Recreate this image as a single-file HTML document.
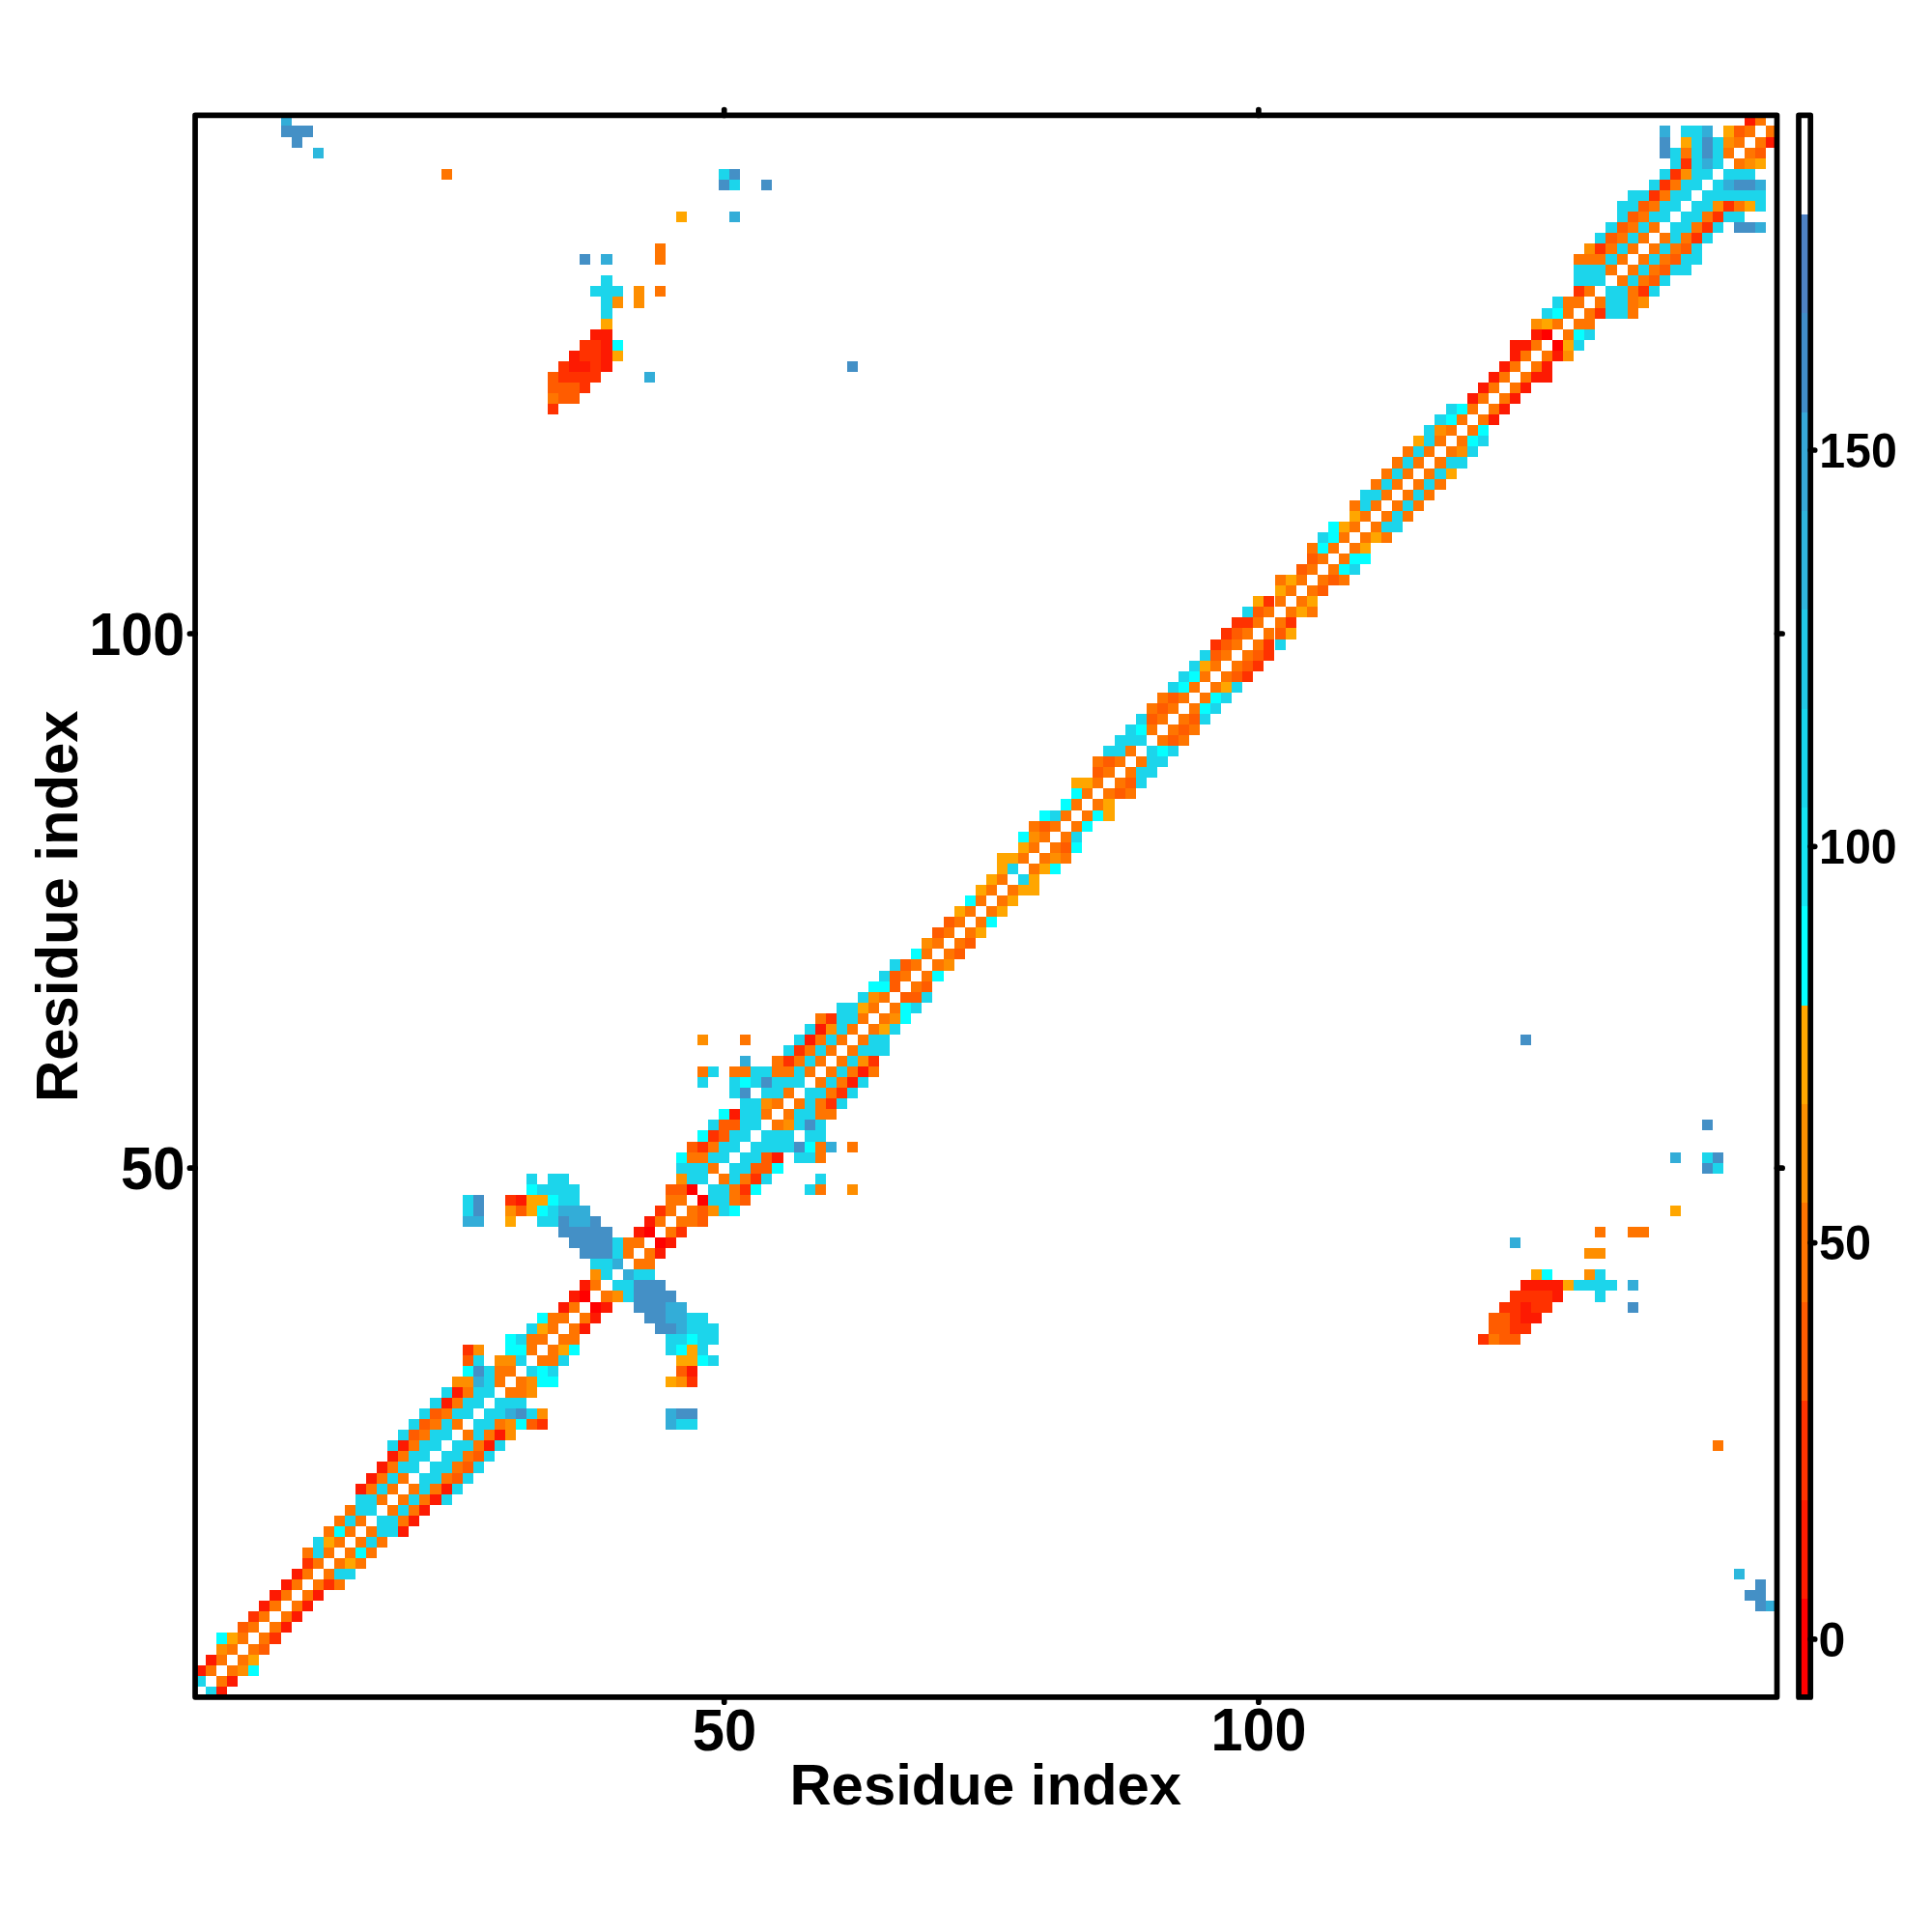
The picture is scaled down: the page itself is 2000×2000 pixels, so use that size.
<!DOCTYPE html>
<html><head><meta charset="utf-8"><style>
html,body{margin:0;padding:0;background:#fff;}
svg{display:block;}
text{font-family:"Liberation Sans",sans-serif;font-weight:bold;fill:#000;}
.tl{font-size:62.5px;}
.cl{font-size:50px;}
.at{font-size:63.5px;}
</style></head><body>
<svg xmlns="http://www.w3.org/2000/svg" width="2000" height="2000" viewBox="0 0 2000 2000">
<rect width="2000" height="2000" fill="#fff"/>
<g shape-rendering="crispEdges">
<rect x="213.10" y="1745.80" width="11.06" height="11.06" fill="#1CD5EB"/>
<rect x="224.16" y="1745.80" width="11.06" height="11.06" fill="#FD1A02"/>
<rect x="202.03" y="1734.74" width="11.06" height="11.06" fill="#1CD5EB"/>
<rect x="224.16" y="1734.74" width="11.06" height="11.06" fill="#FF7500"/>
<rect x="235.22" y="1734.74" width="11.06" height="11.06" fill="#FD1A02"/>
<rect x="202.03" y="1723.68" width="11.06" height="11.06" fill="#FD1A02"/>
<rect x="213.10" y="1723.68" width="11.06" height="11.06" fill="#FF7500"/>
<rect x="235.22" y="1723.68" width="11.06" height="11.06" fill="#FF7500"/>
<rect x="246.29" y="1723.68" width="11.06" height="11.06" fill="#FE8E00"/>
<rect x="257.35" y="1723.68" width="11.06" height="11.06" fill="#05FFFF"/>
<rect x="213.10" y="1712.61" width="11.06" height="11.06" fill="#FD1A02"/>
<rect x="224.16" y="1712.61" width="11.06" height="11.06" fill="#FF7500"/>
<rect x="246.29" y="1712.61" width="11.06" height="11.06" fill="#FF7500"/>
<rect x="257.35" y="1712.61" width="11.06" height="11.06" fill="#FFA600"/>
<rect x="224.16" y="1701.55" width="11.06" height="11.06" fill="#FE8E00"/>
<rect x="235.22" y="1701.55" width="11.06" height="11.06" fill="#FF7500"/>
<rect x="257.35" y="1701.55" width="11.06" height="11.06" fill="#FF7500"/>
<rect x="268.42" y="1701.55" width="11.06" height="11.06" fill="#FF5C00"/>
<rect x="224.16" y="1690.48" width="11.06" height="11.06" fill="#05FFFF"/>
<rect x="235.22" y="1690.48" width="11.06" height="11.06" fill="#FFA600"/>
<rect x="246.29" y="1690.48" width="11.06" height="11.06" fill="#FF7500"/>
<rect x="268.42" y="1690.48" width="11.06" height="11.06" fill="#FF7500"/>
<rect x="279.48" y="1690.48" width="11.06" height="11.06" fill="#FF3200"/>
<rect x="246.29" y="1679.42" width="11.06" height="11.06" fill="#FF5C00"/>
<rect x="257.35" y="1679.42" width="11.06" height="11.06" fill="#FF7500"/>
<rect x="279.48" y="1679.42" width="11.06" height="11.06" fill="#FF7500"/>
<rect x="290.54" y="1679.42" width="11.06" height="11.06" fill="#FD1A02"/>
<rect x="257.35" y="1668.36" width="11.06" height="11.06" fill="#FF3200"/>
<rect x="268.42" y="1668.36" width="11.06" height="11.06" fill="#FF7500"/>
<rect x="290.54" y="1668.36" width="11.06" height="11.06" fill="#FF7500"/>
<rect x="301.61" y="1668.36" width="11.06" height="11.06" fill="#FD1A02"/>
<rect x="268.42" y="1657.29" width="11.06" height="11.06" fill="#FD1A02"/>
<rect x="279.48" y="1657.29" width="11.06" height="11.06" fill="#FF7500"/>
<rect x="301.61" y="1657.29" width="11.06" height="11.06" fill="#FF7500"/>
<rect x="312.67" y="1657.29" width="11.06" height="11.06" fill="#FD1A02"/>
<rect x="1817.38" y="1657.29" width="11.06" height="11.06" fill="#4490C6"/>
<rect x="1828.44" y="1657.29" width="11.06" height="11.06" fill="#33ADD8"/>
<rect x="279.48" y="1646.23" width="11.06" height="11.06" fill="#FD1A02"/>
<rect x="290.54" y="1646.23" width="11.06" height="11.06" fill="#FF7500"/>
<rect x="312.67" y="1646.23" width="11.06" height="11.06" fill="#FF7500"/>
<rect x="323.74" y="1646.23" width="11.06" height="11.06" fill="#FD1A02"/>
<rect x="1806.31" y="1646.23" width="22.13" height="11.06" fill="#4490C6"/>
<rect x="290.54" y="1635.16" width="11.06" height="11.06" fill="#FD1A02"/>
<rect x="301.61" y="1635.16" width="11.06" height="11.06" fill="#FF7500"/>
<rect x="323.74" y="1635.16" width="11.06" height="11.06" fill="#FF7500"/>
<rect x="334.80" y="1635.16" width="11.06" height="11.06" fill="#FF3200"/>
<rect x="345.86" y="1635.16" width="11.06" height="11.06" fill="#FF7500"/>
<rect x="1817.38" y="1635.16" width="11.06" height="11.06" fill="#4490C6"/>
<rect x="301.61" y="1624.10" width="11.06" height="11.06" fill="#FD1A02"/>
<rect x="312.67" y="1624.10" width="11.06" height="11.06" fill="#FF7500"/>
<rect x="334.80" y="1624.10" width="11.06" height="11.06" fill="#FF7500"/>
<rect x="345.86" y="1624.10" width="22.13" height="11.06" fill="#1CD5EB"/>
<rect x="1795.25" y="1624.10" width="11.06" height="11.06" fill="#2DB8DD"/>
<rect x="312.67" y="1613.04" width="11.06" height="11.06" fill="#FF3200"/>
<rect x="323.74" y="1613.04" width="11.06" height="11.06" fill="#FF7500"/>
<rect x="345.86" y="1613.04" width="11.06" height="11.06" fill="#FF7500"/>
<rect x="356.93" y="1613.04" width="11.06" height="11.06" fill="#FFA600"/>
<rect x="367.99" y="1613.04" width="11.06" height="11.06" fill="#FF7500"/>
<rect x="312.67" y="1601.97" width="11.06" height="11.06" fill="#FF7500"/>
<rect x="323.74" y="1601.97" width="11.06" height="11.06" fill="#1CD5EB"/>
<rect x="334.80" y="1601.97" width="11.06" height="11.06" fill="#FF7500"/>
<rect x="356.93" y="1601.97" width="11.06" height="11.06" fill="#FF7500"/>
<rect x="367.99" y="1601.97" width="11.06" height="11.06" fill="#05FFFF"/>
<rect x="379.06" y="1601.97" width="11.06" height="11.06" fill="#FF7500"/>
<rect x="323.74" y="1590.91" width="11.06" height="11.06" fill="#1CD5EB"/>
<rect x="334.80" y="1590.91" width="11.06" height="11.06" fill="#FFA600"/>
<rect x="345.86" y="1590.91" width="11.06" height="11.06" fill="#FF7500"/>
<rect x="367.99" y="1590.91" width="11.06" height="11.06" fill="#FF7500"/>
<rect x="379.06" y="1590.91" width="11.06" height="11.06" fill="#1CD5EB"/>
<rect x="390.12" y="1590.91" width="11.06" height="11.06" fill="#FF7500"/>
<rect x="334.80" y="1579.84" width="11.06" height="11.06" fill="#FF7500"/>
<rect x="345.86" y="1579.84" width="11.06" height="11.06" fill="#05FFFF"/>
<rect x="356.93" y="1579.84" width="11.06" height="11.06" fill="#FF7500"/>
<rect x="379.06" y="1579.84" width="11.06" height="11.06" fill="#FF7500"/>
<rect x="390.12" y="1579.84" width="22.13" height="11.06" fill="#1CD5EB"/>
<rect x="412.25" y="1579.84" width="11.06" height="11.06" fill="#FD1A02"/>
<rect x="345.86" y="1568.78" width="11.06" height="11.06" fill="#FF7500"/>
<rect x="356.93" y="1568.78" width="11.06" height="11.06" fill="#1CD5EB"/>
<rect x="367.99" y="1568.78" width="11.06" height="11.06" fill="#FF7500"/>
<rect x="390.12" y="1568.78" width="22.13" height="11.06" fill="#1CD5EB"/>
<rect x="412.25" y="1568.78" width="11.06" height="11.06" fill="#FF7500"/>
<rect x="423.31" y="1568.78" width="11.06" height="11.06" fill="#FD1A02"/>
<rect x="356.93" y="1557.72" width="11.06" height="11.06" fill="#FF7500"/>
<rect x="367.99" y="1557.72" width="22.13" height="11.06" fill="#1CD5EB"/>
<rect x="401.18" y="1557.72" width="11.06" height="11.06" fill="#FF7500"/>
<rect x="412.25" y="1557.72" width="11.06" height="11.06" fill="#1CD5EB"/>
<rect x="423.31" y="1557.72" width="11.06" height="11.06" fill="#FF7500"/>
<rect x="434.38" y="1557.72" width="11.06" height="11.06" fill="#FD1A02"/>
<rect x="367.99" y="1546.65" width="22.13" height="11.06" fill="#1CD5EB"/>
<rect x="390.12" y="1546.65" width="11.06" height="11.06" fill="#FF7500"/>
<rect x="412.25" y="1546.65" width="11.06" height="11.06" fill="#FF7500"/>
<rect x="423.31" y="1546.65" width="11.06" height="11.06" fill="#1CD5EB"/>
<rect x="434.38" y="1546.65" width="11.06" height="11.06" fill="#FF7500"/>
<rect x="445.44" y="1546.65" width="11.06" height="11.06" fill="#FD1A02"/>
<rect x="456.50" y="1546.65" width="11.06" height="11.06" fill="#1CD5EB"/>
<rect x="367.99" y="1535.59" width="11.06" height="11.06" fill="#FD1A02"/>
<rect x="379.06" y="1535.59" width="11.06" height="11.06" fill="#FF7500"/>
<rect x="390.12" y="1535.59" width="11.06" height="11.06" fill="#1CD5EB"/>
<rect x="401.18" y="1535.59" width="11.06" height="11.06" fill="#FF7500"/>
<rect x="423.31" y="1535.59" width="11.06" height="11.06" fill="#FF7500"/>
<rect x="434.38" y="1535.59" width="11.06" height="11.06" fill="#1CD5EB"/>
<rect x="445.44" y="1535.59" width="11.06" height="11.06" fill="#FF7500"/>
<rect x="456.50" y="1535.59" width="11.06" height="11.06" fill="#FD1A02"/>
<rect x="467.57" y="1535.59" width="11.06" height="11.06" fill="#1CD5EB"/>
<rect x="379.06" y="1524.52" width="11.06" height="11.06" fill="#FD1A02"/>
<rect x="390.12" y="1524.52" width="11.06" height="11.06" fill="#FF7500"/>
<rect x="401.18" y="1524.52" width="11.06" height="11.06" fill="#1CD5EB"/>
<rect x="412.25" y="1524.52" width="11.06" height="11.06" fill="#FF7500"/>
<rect x="434.38" y="1524.52" width="22.13" height="11.06" fill="#1CD5EB"/>
<rect x="456.50" y="1524.52" width="11.06" height="11.06" fill="#FF7500"/>
<rect x="467.57" y="1524.52" width="11.06" height="11.06" fill="#FF5C00"/>
<rect x="478.63" y="1524.52" width="11.06" height="11.06" fill="#1CD5EB"/>
<rect x="390.12" y="1513.46" width="11.06" height="11.06" fill="#FD1A02"/>
<rect x="401.18" y="1513.46" width="11.06" height="11.06" fill="#FF7500"/>
<rect x="412.25" y="1513.46" width="22.13" height="11.06" fill="#1CD5EB"/>
<rect x="445.44" y="1513.46" width="22.13" height="11.06" fill="#1CD5EB"/>
<rect x="467.57" y="1513.46" width="11.06" height="11.06" fill="#FF7500"/>
<rect x="478.63" y="1513.46" width="11.06" height="11.06" fill="#FF5C00"/>
<rect x="489.70" y="1513.46" width="11.06" height="11.06" fill="#1CD5EB"/>
<rect x="401.18" y="1502.40" width="11.06" height="11.06" fill="#FD1A02"/>
<rect x="412.25" y="1502.40" width="11.06" height="11.06" fill="#FF7500"/>
<rect x="423.31" y="1502.40" width="22.13" height="11.06" fill="#1CD5EB"/>
<rect x="456.50" y="1502.40" width="22.13" height="11.06" fill="#1CD5EB"/>
<rect x="478.63" y="1502.40" width="11.06" height="11.06" fill="#FF7500"/>
<rect x="489.70" y="1502.40" width="11.06" height="11.06" fill="#FF5C00"/>
<rect x="500.76" y="1502.40" width="11.06" height="11.06" fill="#1CD5EB"/>
<rect x="401.18" y="1491.33" width="11.06" height="11.06" fill="#1CD5EB"/>
<rect x="412.25" y="1491.33" width="11.06" height="11.06" fill="#FD1A02"/>
<rect x="423.31" y="1491.33" width="11.06" height="11.06" fill="#FF7500"/>
<rect x="434.38" y="1491.33" width="22.13" height="11.06" fill="#1CD5EB"/>
<rect x="467.57" y="1491.33" width="22.13" height="11.06" fill="#1CD5EB"/>
<rect x="489.70" y="1491.33" width="11.06" height="11.06" fill="#FF7500"/>
<rect x="500.76" y="1491.33" width="11.06" height="11.06" fill="#FD1A02"/>
<rect x="511.82" y="1491.33" width="11.06" height="11.06" fill="#1CD5EB"/>
<rect x="1773.12" y="1491.33" width="11.06" height="11.06" fill="#FF7500"/>
<rect x="412.25" y="1480.27" width="11.06" height="11.06" fill="#1CD5EB"/>
<rect x="423.31" y="1480.27" width="11.06" height="11.06" fill="#FF5C00"/>
<rect x="434.38" y="1480.27" width="11.06" height="11.06" fill="#FF7500"/>
<rect x="445.44" y="1480.27" width="22.13" height="11.06" fill="#1CD5EB"/>
<rect x="478.63" y="1480.27" width="11.06" height="11.06" fill="#FF7500"/>
<rect x="489.70" y="1480.27" width="11.06" height="11.06" fill="#1CD5EB"/>
<rect x="500.76" y="1480.27" width="11.06" height="11.06" fill="#FF7500"/>
<rect x="511.82" y="1480.27" width="11.06" height="11.06" fill="#FD1A02"/>
<rect x="522.89" y="1480.27" width="11.06" height="11.06" fill="#FE8E00"/>
<rect x="423.31" y="1469.20" width="11.06" height="11.06" fill="#1CD5EB"/>
<rect x="434.38" y="1469.20" width="11.06" height="11.06" fill="#FF5C00"/>
<rect x="445.44" y="1469.20" width="11.06" height="11.06" fill="#FF7500"/>
<rect x="456.50" y="1469.20" width="11.06" height="11.06" fill="#1CD5EB"/>
<rect x="467.57" y="1469.20" width="11.06" height="11.06" fill="#FF7500"/>
<rect x="489.70" y="1469.20" width="22.13" height="11.06" fill="#1CD5EB"/>
<rect x="511.82" y="1469.20" width="11.06" height="11.06" fill="#FF7500"/>
<rect x="522.89" y="1469.20" width="11.06" height="11.06" fill="#FE8E00"/>
<rect x="533.95" y="1469.20" width="11.06" height="11.06" fill="#05FFFF"/>
<rect x="545.02" y="1469.20" width="11.06" height="11.06" fill="#FF5C00"/>
<rect x="556.08" y="1469.20" width="11.06" height="11.06" fill="#FF3200"/>
<rect x="688.85" y="1469.20" width="11.06" height="11.06" fill="#33ADD8"/>
<rect x="699.91" y="1469.20" width="22.13" height="11.06" fill="#1CD5EB"/>
<rect x="434.38" y="1458.14" width="11.06" height="11.06" fill="#1CD5EB"/>
<rect x="445.44" y="1458.14" width="11.06" height="11.06" fill="#FF5C00"/>
<rect x="456.50" y="1458.14" width="11.06" height="11.06" fill="#FF7500"/>
<rect x="467.57" y="1458.14" width="22.13" height="11.06" fill="#1CD5EB"/>
<rect x="500.76" y="1458.14" width="22.13" height="11.06" fill="#1CD5EB"/>
<rect x="522.89" y="1458.14" width="11.06" height="11.06" fill="#33ADD8"/>
<rect x="533.95" y="1458.14" width="11.06" height="11.06" fill="#4490C6"/>
<rect x="545.02" y="1458.14" width="11.06" height="11.06" fill="#1CD5EB"/>
<rect x="556.08" y="1458.14" width="11.06" height="11.06" fill="#FE8E00"/>
<rect x="688.85" y="1458.14" width="11.06" height="11.06" fill="#33ADD8"/>
<rect x="699.91" y="1458.14" width="22.13" height="11.06" fill="#4490C6"/>
<rect x="445.44" y="1447.08" width="11.06" height="11.06" fill="#1CD5EB"/>
<rect x="456.50" y="1447.08" width="11.06" height="11.06" fill="#FD1A02"/>
<rect x="467.57" y="1447.08" width="11.06" height="11.06" fill="#FF7500"/>
<rect x="478.63" y="1447.08" width="22.13" height="11.06" fill="#1CD5EB"/>
<rect x="511.82" y="1447.08" width="33.19" height="11.06" fill="#1CD5EB"/>
<rect x="456.50" y="1436.01" width="11.06" height="11.06" fill="#1CD5EB"/>
<rect x="467.57" y="1436.01" width="11.06" height="11.06" fill="#FD1A02"/>
<rect x="478.63" y="1436.01" width="11.06" height="11.06" fill="#FF7500"/>
<rect x="489.70" y="1436.01" width="22.13" height="11.06" fill="#1CD5EB"/>
<rect x="522.89" y="1436.01" width="22.13" height="11.06" fill="#FF7500"/>
<rect x="545.02" y="1436.01" width="11.06" height="11.06" fill="#FE8E00"/>
<rect x="467.57" y="1424.95" width="22.13" height="11.06" fill="#FE8E00"/>
<rect x="489.70" y="1424.95" width="11.06" height="11.06" fill="#33ADD8"/>
<rect x="500.76" y="1424.95" width="11.06" height="11.06" fill="#1CD5EB"/>
<rect x="511.82" y="1424.95" width="11.06" height="11.06" fill="#FF7500"/>
<rect x="533.95" y="1424.95" width="11.06" height="11.06" fill="#FF7500"/>
<rect x="545.02" y="1424.95" width="11.06" height="11.06" fill="#FE8E00"/>
<rect x="556.08" y="1424.95" width="22.13" height="11.06" fill="#05FFFF"/>
<rect x="688.85" y="1424.95" width="11.06" height="11.06" fill="#FFA600"/>
<rect x="699.91" y="1424.95" width="11.06" height="11.06" fill="#FE8E00"/>
<rect x="710.98" y="1424.95" width="11.06" height="11.06" fill="#FF3200"/>
<rect x="478.63" y="1413.88" width="11.06" height="11.06" fill="#05FFFF"/>
<rect x="489.70" y="1413.88" width="11.06" height="11.06" fill="#4490C6"/>
<rect x="500.76" y="1413.88" width="11.06" height="11.06" fill="#1CD5EB"/>
<rect x="511.82" y="1413.88" width="22.13" height="11.06" fill="#FF7500"/>
<rect x="545.02" y="1413.88" width="11.06" height="11.06" fill="#1CD5EB"/>
<rect x="556.08" y="1413.88" width="11.06" height="11.06" fill="#05FFFF"/>
<rect x="567.14" y="1413.88" width="11.06" height="11.06" fill="#1CD5EB"/>
<rect x="699.91" y="1413.88" width="11.06" height="11.06" fill="#FF5C00"/>
<rect x="710.98" y="1413.88" width="11.06" height="11.06" fill="#FD1A02"/>
<rect x="478.63" y="1402.82" width="11.06" height="11.06" fill="#FF5C00"/>
<rect x="489.70" y="1402.82" width="11.06" height="11.06" fill="#1CD5EB"/>
<rect x="511.82" y="1402.82" width="22.13" height="11.06" fill="#FE8E00"/>
<rect x="533.95" y="1402.82" width="11.06" height="11.06" fill="#1CD5EB"/>
<rect x="556.08" y="1402.82" width="22.13" height="11.06" fill="#FF7500"/>
<rect x="578.21" y="1402.82" width="11.06" height="11.06" fill="#1CD5EB"/>
<rect x="699.91" y="1402.82" width="22.13" height="11.06" fill="#FFA600"/>
<rect x="722.04" y="1402.82" width="11.06" height="11.06" fill="#05FFFF"/>
<rect x="733.10" y="1402.82" width="11.06" height="11.06" fill="#1CD5EB"/>
<rect x="478.63" y="1391.76" width="11.06" height="11.06" fill="#FF3200"/>
<rect x="489.70" y="1391.76" width="11.06" height="11.06" fill="#FE8E00"/>
<rect x="522.89" y="1391.76" width="22.13" height="11.06" fill="#05FFFF"/>
<rect x="545.02" y="1391.76" width="11.06" height="11.06" fill="#FF7500"/>
<rect x="567.14" y="1391.76" width="11.06" height="11.06" fill="#FF7500"/>
<rect x="578.21" y="1391.76" width="11.06" height="11.06" fill="#FFA600"/>
<rect x="589.27" y="1391.76" width="11.06" height="11.06" fill="#05FFFF"/>
<rect x="688.85" y="1391.76" width="11.06" height="11.06" fill="#1CD5EB"/>
<rect x="699.91" y="1391.76" width="11.06" height="11.06" fill="#05FFFF"/>
<rect x="710.98" y="1391.76" width="11.06" height="11.06" fill="#FFA600"/>
<rect x="722.04" y="1391.76" width="11.06" height="11.06" fill="#1CD5EB"/>
<rect x="522.89" y="1380.69" width="11.06" height="11.06" fill="#05FFFF"/>
<rect x="533.95" y="1380.69" width="11.06" height="11.06" fill="#1CD5EB"/>
<rect x="545.02" y="1380.69" width="22.13" height="11.06" fill="#FF7500"/>
<rect x="578.21" y="1380.69" width="22.13" height="11.06" fill="#FF7500"/>
<rect x="688.85" y="1380.69" width="22.13" height="11.06" fill="#1CD5EB"/>
<rect x="710.98" y="1380.69" width="11.06" height="11.06" fill="#05FFFF"/>
<rect x="722.04" y="1380.69" width="22.13" height="11.06" fill="#1CD5EB"/>
<rect x="1529.71" y="1380.69" width="11.06" height="11.06" fill="#FF3200"/>
<rect x="1540.78" y="1380.69" width="11.06" height="11.06" fill="#FF7500"/>
<rect x="1551.84" y="1380.69" width="22.13" height="11.06" fill="#FF5C00"/>
<rect x="545.02" y="1369.63" width="11.06" height="11.06" fill="#1CD5EB"/>
<rect x="556.08" y="1369.63" width="11.06" height="11.06" fill="#FFA600"/>
<rect x="567.14" y="1369.63" width="11.06" height="11.06" fill="#FF7500"/>
<rect x="589.27" y="1369.63" width="11.06" height="11.06" fill="#FF7500"/>
<rect x="600.34" y="1369.63" width="11.06" height="11.06" fill="#FD1A02"/>
<rect x="677.78" y="1369.63" width="22.13" height="11.06" fill="#4490C6"/>
<rect x="699.91" y="1369.63" width="11.06" height="11.06" fill="#33ADD8"/>
<rect x="710.98" y="1369.63" width="33.19" height="11.06" fill="#1CD5EB"/>
<rect x="1540.78" y="1369.63" width="22.13" height="11.06" fill="#FF5C00"/>
<rect x="1562.90" y="1369.63" width="22.13" height="11.06" fill="#FF3200"/>
<rect x="556.08" y="1358.56" width="11.06" height="11.06" fill="#05FFFF"/>
<rect x="567.14" y="1358.56" width="22.13" height="11.06" fill="#FF7500"/>
<rect x="600.34" y="1358.56" width="11.06" height="11.06" fill="#FF7500"/>
<rect x="611.40" y="1358.56" width="11.06" height="11.06" fill="#FD1A02"/>
<rect x="666.72" y="1358.56" width="22.13" height="11.06" fill="#4490C6"/>
<rect x="688.85" y="1358.56" width="22.13" height="11.06" fill="#33ADD8"/>
<rect x="710.98" y="1358.56" width="22.13" height="11.06" fill="#1CD5EB"/>
<rect x="1540.78" y="1358.56" width="22.13" height="11.06" fill="#FF5C00"/>
<rect x="1562.90" y="1358.56" width="11.06" height="11.06" fill="#FF3200"/>
<rect x="1573.97" y="1358.56" width="22.13" height="11.06" fill="#FD1A02"/>
<rect x="578.21" y="1347.50" width="11.06" height="11.06" fill="#FD1A02"/>
<rect x="589.27" y="1347.50" width="11.06" height="11.06" fill="#FF7500"/>
<rect x="611.40" y="1347.50" width="11.06" height="11.06" fill="#FF0000"/>
<rect x="622.46" y="1347.50" width="11.06" height="11.06" fill="#FD1A02"/>
<rect x="655.66" y="1347.50" width="33.19" height="11.06" fill="#4490C6"/>
<rect x="688.85" y="1347.50" width="22.13" height="11.06" fill="#33ADD8"/>
<rect x="1551.84" y="1347.50" width="22.13" height="11.06" fill="#FF3200"/>
<rect x="1573.97" y="1347.50" width="11.06" height="11.06" fill="#FD1A02"/>
<rect x="1585.03" y="1347.50" width="22.13" height="11.06" fill="#FF3200"/>
<rect x="1684.61" y="1347.50" width="11.06" height="11.06" fill="#4490C6"/>
<rect x="589.27" y="1336.44" width="11.06" height="11.06" fill="#FD1A02"/>
<rect x="600.34" y="1336.44" width="11.06" height="11.06" fill="#FF0000"/>
<rect x="622.46" y="1336.44" width="11.06" height="11.06" fill="#FF7500"/>
<rect x="633.53" y="1336.44" width="11.06" height="11.06" fill="#FE8E00"/>
<rect x="644.59" y="1336.44" width="11.06" height="11.06" fill="#1CD5EB"/>
<rect x="655.66" y="1336.44" width="44.26" height="11.06" fill="#4490C6"/>
<rect x="1562.90" y="1336.44" width="44.26" height="11.06" fill="#FF3200"/>
<rect x="1607.16" y="1336.44" width="11.06" height="11.06" fill="#FD1A02"/>
<rect x="1651.42" y="1336.44" width="11.06" height="11.06" fill="#1CD5EB"/>
<rect x="600.34" y="1325.37" width="11.06" height="11.06" fill="#FD1A02"/>
<rect x="611.40" y="1325.37" width="11.06" height="11.06" fill="#FF7500"/>
<rect x="633.53" y="1325.37" width="22.13" height="11.06" fill="#1CD5EB"/>
<rect x="655.66" y="1325.37" width="33.19" height="11.06" fill="#4490C6"/>
<rect x="1573.97" y="1325.37" width="44.26" height="11.06" fill="#FD1A02"/>
<rect x="1618.22" y="1325.37" width="11.06" height="11.06" fill="#FFA600"/>
<rect x="1629.29" y="1325.37" width="44.26" height="11.06" fill="#1CD5EB"/>
<rect x="1684.61" y="1325.37" width="11.06" height="11.06" fill="#33ADD8"/>
<rect x="611.40" y="1314.31" width="11.06" height="11.06" fill="#FE8E00"/>
<rect x="622.46" y="1314.31" width="11.06" height="11.06" fill="#1CD5EB"/>
<rect x="644.59" y="1314.31" width="11.06" height="11.06" fill="#33ADD8"/>
<rect x="655.66" y="1314.31" width="22.13" height="11.06" fill="#1CD5EB"/>
<rect x="1585.03" y="1314.31" width="11.06" height="11.06" fill="#FFA600"/>
<rect x="1596.10" y="1314.31" width="11.06" height="11.06" fill="#05FFFF"/>
<rect x="1640.35" y="1314.31" width="11.06" height="11.06" fill="#FE8E00"/>
<rect x="1651.42" y="1314.31" width="11.06" height="11.06" fill="#1CD5EB"/>
<rect x="611.40" y="1303.24" width="22.13" height="11.06" fill="#1CD5EB"/>
<rect x="633.53" y="1303.24" width="11.06" height="11.06" fill="#33ADD8"/>
<rect x="655.66" y="1303.24" width="22.13" height="11.06" fill="#FF7500"/>
<rect x="600.34" y="1292.18" width="33.19" height="11.06" fill="#4490C6"/>
<rect x="633.53" y="1292.18" width="11.06" height="11.06" fill="#1CD5EB"/>
<rect x="644.59" y="1292.18" width="11.06" height="11.06" fill="#FF7500"/>
<rect x="666.72" y="1292.18" width="11.06" height="11.06" fill="#FF7500"/>
<rect x="677.78" y="1292.18" width="11.06" height="11.06" fill="#FD1A02"/>
<rect x="1640.35" y="1292.18" width="22.13" height="11.06" fill="#FE8E00"/>
<rect x="589.27" y="1281.12" width="44.26" height="11.06" fill="#4490C6"/>
<rect x="633.53" y="1281.12" width="11.06" height="11.06" fill="#1CD5EB"/>
<rect x="644.59" y="1281.12" width="22.13" height="11.06" fill="#FF7500"/>
<rect x="677.78" y="1281.12" width="11.06" height="11.06" fill="#FF0000"/>
<rect x="688.85" y="1281.12" width="11.06" height="11.06" fill="#FD1A02"/>
<rect x="1562.90" y="1281.12" width="11.06" height="11.06" fill="#33ADD8"/>
<rect x="578.21" y="1270.05" width="55.32" height="11.06" fill="#4490C6"/>
<rect x="655.66" y="1270.05" width="11.06" height="11.06" fill="#FD1A02"/>
<rect x="666.72" y="1270.05" width="11.06" height="11.06" fill="#FF0000"/>
<rect x="688.85" y="1270.05" width="11.06" height="11.06" fill="#FF7500"/>
<rect x="699.91" y="1270.05" width="11.06" height="11.06" fill="#FF3200"/>
<rect x="1651.42" y="1270.05" width="11.06" height="11.06" fill="#FF7500"/>
<rect x="1684.61" y="1270.05" width="22.13" height="11.06" fill="#FF7500"/>
<rect x="478.63" y="1258.99" width="22.13" height="11.06" fill="#33ADD8"/>
<rect x="522.89" y="1258.99" width="11.06" height="11.06" fill="#FFA600"/>
<rect x="556.08" y="1258.99" width="22.13" height="11.06" fill="#1CD5EB"/>
<rect x="578.21" y="1258.99" width="11.06" height="11.06" fill="#4490C6"/>
<rect x="589.27" y="1258.99" width="22.13" height="11.06" fill="#33ADD8"/>
<rect x="611.40" y="1258.99" width="11.06" height="11.06" fill="#4490C6"/>
<rect x="666.72" y="1258.99" width="11.06" height="11.06" fill="#FD1A02"/>
<rect x="677.78" y="1258.99" width="11.06" height="11.06" fill="#FF7500"/>
<rect x="699.91" y="1258.99" width="22.13" height="11.06" fill="#FF7500"/>
<rect x="722.04" y="1258.99" width="11.06" height="11.06" fill="#FF5C00"/>
<rect x="478.63" y="1247.92" width="11.06" height="11.06" fill="#1CD5EB"/>
<rect x="489.70" y="1247.92" width="11.06" height="11.06" fill="#4490C6"/>
<rect x="522.89" y="1247.92" width="11.06" height="11.06" fill="#FE8E00"/>
<rect x="533.95" y="1247.92" width="11.06" height="11.06" fill="#FF5C00"/>
<rect x="545.02" y="1247.92" width="11.06" height="11.06" fill="#FFA600"/>
<rect x="556.08" y="1247.92" width="11.06" height="11.06" fill="#05FFFF"/>
<rect x="567.14" y="1247.92" width="11.06" height="11.06" fill="#1CD5EB"/>
<rect x="578.21" y="1247.92" width="33.19" height="11.06" fill="#33ADD8"/>
<rect x="677.78" y="1247.92" width="11.06" height="11.06" fill="#FF3200"/>
<rect x="688.85" y="1247.92" width="11.06" height="11.06" fill="#FF7500"/>
<rect x="710.98" y="1247.92" width="11.06" height="11.06" fill="#FF7500"/>
<rect x="722.04" y="1247.92" width="11.06" height="11.06" fill="#FF5C00"/>
<rect x="733.10" y="1247.92" width="11.06" height="11.06" fill="#FE8E00"/>
<rect x="744.17" y="1247.92" width="11.06" height="11.06" fill="#1CD5EB"/>
<rect x="755.23" y="1247.92" width="11.06" height="11.06" fill="#05FFFF"/>
<rect x="1728.86" y="1247.92" width="11.06" height="11.06" fill="#FFA600"/>
<rect x="478.63" y="1236.86" width="11.06" height="11.06" fill="#1CD5EB"/>
<rect x="489.70" y="1236.86" width="11.06" height="11.06" fill="#4490C6"/>
<rect x="522.89" y="1236.86" width="11.06" height="11.06" fill="#FF3200"/>
<rect x="533.95" y="1236.86" width="11.06" height="11.06" fill="#FD1A02"/>
<rect x="545.02" y="1236.86" width="22.13" height="11.06" fill="#FFA600"/>
<rect x="567.14" y="1236.86" width="11.06" height="11.06" fill="#05FFFF"/>
<rect x="578.21" y="1236.86" width="22.13" height="11.06" fill="#1CD5EB"/>
<rect x="688.85" y="1236.86" width="22.13" height="11.06" fill="#FF7500"/>
<rect x="722.04" y="1236.86" width="11.06" height="11.06" fill="#FF0000"/>
<rect x="733.10" y="1236.86" width="22.13" height="11.06" fill="#1CD5EB"/>
<rect x="755.23" y="1236.86" width="11.06" height="11.06" fill="#FF7500"/>
<rect x="766.30" y="1236.86" width="11.06" height="11.06" fill="#FF5C00"/>
<rect x="545.02" y="1225.80" width="11.06" height="11.06" fill="#05FFFF"/>
<rect x="556.08" y="1225.80" width="44.26" height="11.06" fill="#1CD5EB"/>
<rect x="688.85" y="1225.80" width="22.13" height="11.06" fill="#FF5C00"/>
<rect x="710.98" y="1225.80" width="11.06" height="11.06" fill="#FF0000"/>
<rect x="733.10" y="1225.80" width="22.13" height="11.06" fill="#1CD5EB"/>
<rect x="755.23" y="1225.80" width="11.06" height="11.06" fill="#FF7500"/>
<rect x="766.30" y="1225.80" width="11.06" height="11.06" fill="#FF3200"/>
<rect x="777.36" y="1225.80" width="11.06" height="11.06" fill="#05FFFF"/>
<rect x="832.68" y="1225.80" width="11.06" height="11.06" fill="#1CD5EB"/>
<rect x="843.74" y="1225.80" width="11.06" height="11.06" fill="#FF7500"/>
<rect x="876.94" y="1225.80" width="11.06" height="11.06" fill="#FE8E00"/>
<rect x="545.02" y="1214.73" width="11.06" height="11.06" fill="#1CD5EB"/>
<rect x="567.14" y="1214.73" width="22.13" height="11.06" fill="#1CD5EB"/>
<rect x="699.91" y="1214.73" width="11.06" height="11.06" fill="#FE8E00"/>
<rect x="710.98" y="1214.73" width="22.13" height="11.06" fill="#1CD5EB"/>
<rect x="744.17" y="1214.73" width="11.06" height="11.06" fill="#FF7500"/>
<rect x="755.23" y="1214.73" width="11.06" height="11.06" fill="#1CD5EB"/>
<rect x="766.30" y="1214.73" width="11.06" height="11.06" fill="#FF7500"/>
<rect x="777.36" y="1214.73" width="11.06" height="11.06" fill="#FF3200"/>
<rect x="788.42" y="1214.73" width="11.06" height="11.06" fill="#1CD5EB"/>
<rect x="843.74" y="1214.73" width="11.06" height="11.06" fill="#1CD5EB"/>
<rect x="699.91" y="1203.67" width="33.19" height="11.06" fill="#1CD5EB"/>
<rect x="733.10" y="1203.67" width="11.06" height="11.06" fill="#FF7500"/>
<rect x="755.23" y="1203.67" width="22.13" height="11.06" fill="#1CD5EB"/>
<rect x="777.36" y="1203.67" width="22.13" height="11.06" fill="#FF5C00"/>
<rect x="799.49" y="1203.67" width="11.06" height="11.06" fill="#05FFFF"/>
<rect x="1762.06" y="1203.67" width="11.06" height="11.06" fill="#4490C6"/>
<rect x="1773.12" y="1203.67" width="11.06" height="11.06" fill="#1CD5EB"/>
<rect x="699.91" y="1192.60" width="11.06" height="11.06" fill="#05FFFF"/>
<rect x="710.98" y="1192.60" width="22.13" height="11.06" fill="#FF7500"/>
<rect x="733.10" y="1192.60" width="22.13" height="11.06" fill="#1CD5EB"/>
<rect x="766.30" y="1192.60" width="22.13" height="11.06" fill="#1CD5EB"/>
<rect x="788.42" y="1192.60" width="11.06" height="11.06" fill="#FF5C00"/>
<rect x="799.49" y="1192.60" width="11.06" height="11.06" fill="#FD1A02"/>
<rect x="821.62" y="1192.60" width="22.13" height="11.06" fill="#1CD5EB"/>
<rect x="843.74" y="1192.60" width="11.06" height="11.06" fill="#FF7500"/>
<rect x="1728.86" y="1192.60" width="11.06" height="11.06" fill="#33ADD8"/>
<rect x="1762.06" y="1192.60" width="11.06" height="11.06" fill="#1CD5EB"/>
<rect x="1773.12" y="1192.60" width="11.06" height="11.06" fill="#4490C6"/>
<rect x="710.98" y="1181.54" width="11.06" height="11.06" fill="#FF5C00"/>
<rect x="722.04" y="1181.54" width="11.06" height="11.06" fill="#FF3200"/>
<rect x="733.10" y="1181.54" width="11.06" height="11.06" fill="#FF7500"/>
<rect x="744.17" y="1181.54" width="22.13" height="11.06" fill="#1CD5EB"/>
<rect x="777.36" y="1181.54" width="44.26" height="11.06" fill="#1CD5EB"/>
<rect x="821.62" y="1181.54" width="11.06" height="11.06" fill="#4490C6"/>
<rect x="832.68" y="1181.54" width="11.06" height="11.06" fill="#05FFFF"/>
<rect x="843.74" y="1181.54" width="11.06" height="11.06" fill="#FF7500"/>
<rect x="854.81" y="1181.54" width="11.06" height="11.06" fill="#33ADD8"/>
<rect x="876.94" y="1181.54" width="11.06" height="11.06" fill="#FF7500"/>
<rect x="722.04" y="1170.48" width="11.06" height="11.06" fill="#05FFFF"/>
<rect x="733.10" y="1170.48" width="11.06" height="11.06" fill="#FF3200"/>
<rect x="744.17" y="1170.48" width="11.06" height="11.06" fill="#FF5C00"/>
<rect x="755.23" y="1170.48" width="22.13" height="11.06" fill="#1CD5EB"/>
<rect x="788.42" y="1170.48" width="33.19" height="11.06" fill="#1CD5EB"/>
<rect x="832.68" y="1170.48" width="22.13" height="11.06" fill="#1CD5EB"/>
<rect x="733.10" y="1159.41" width="11.06" height="11.06" fill="#1CD5EB"/>
<rect x="744.17" y="1159.41" width="22.13" height="11.06" fill="#FF5C00"/>
<rect x="766.30" y="1159.41" width="22.13" height="11.06" fill="#1CD5EB"/>
<rect x="799.49" y="1159.41" width="11.06" height="11.06" fill="#FF7500"/>
<rect x="810.55" y="1159.41" width="11.06" height="11.06" fill="#FE8E00"/>
<rect x="821.62" y="1159.41" width="11.06" height="11.06" fill="#1CD5EB"/>
<rect x="832.68" y="1159.41" width="11.06" height="11.06" fill="#4490C6"/>
<rect x="843.74" y="1159.41" width="11.06" height="11.06" fill="#1CD5EB"/>
<rect x="1762.06" y="1159.41" width="11.06" height="11.06" fill="#4490C6"/>
<rect x="744.17" y="1148.35" width="11.06" height="11.06" fill="#05FFFF"/>
<rect x="755.23" y="1148.35" width="11.06" height="11.06" fill="#FD1A02"/>
<rect x="766.30" y="1148.35" width="22.13" height="11.06" fill="#1CD5EB"/>
<rect x="788.42" y="1148.35" width="11.06" height="11.06" fill="#FF7500"/>
<rect x="810.55" y="1148.35" width="11.06" height="11.06" fill="#FF7500"/>
<rect x="821.62" y="1148.35" width="22.13" height="11.06" fill="#1CD5EB"/>
<rect x="843.74" y="1148.35" width="22.13" height="11.06" fill="#FF7500"/>
<rect x="766.30" y="1137.28" width="22.13" height="11.06" fill="#1CD5EB"/>
<rect x="788.42" y="1137.28" width="11.06" height="11.06" fill="#FE8E00"/>
<rect x="799.49" y="1137.28" width="11.06" height="11.06" fill="#FF7500"/>
<rect x="821.62" y="1137.28" width="11.06" height="11.06" fill="#FF7500"/>
<rect x="832.68" y="1137.28" width="11.06" height="11.06" fill="#1CD5EB"/>
<rect x="843.74" y="1137.28" width="11.06" height="11.06" fill="#FF7500"/>
<rect x="854.81" y="1137.28" width="11.06" height="11.06" fill="#FF3200"/>
<rect x="865.87" y="1137.28" width="11.06" height="11.06" fill="#1CD5EB"/>
<rect x="755.23" y="1126.22" width="11.06" height="11.06" fill="#1CD5EB"/>
<rect x="766.30" y="1126.22" width="11.06" height="11.06" fill="#4490C6"/>
<rect x="788.42" y="1126.22" width="22.13" height="11.06" fill="#1CD5EB"/>
<rect x="810.55" y="1126.22" width="11.06" height="11.06" fill="#FF7500"/>
<rect x="832.68" y="1126.22" width="22.13" height="11.06" fill="#1CD5EB"/>
<rect x="854.81" y="1126.22" width="11.06" height="11.06" fill="#FF7500"/>
<rect x="865.87" y="1126.22" width="11.06" height="11.06" fill="#FF3200"/>
<rect x="876.94" y="1126.22" width="11.06" height="11.06" fill="#1CD5EB"/>
<rect x="722.04" y="1115.16" width="11.06" height="11.06" fill="#1CD5EB"/>
<rect x="755.23" y="1115.16" width="11.06" height="11.06" fill="#1CD5EB"/>
<rect x="766.30" y="1115.16" width="11.06" height="11.06" fill="#05FFFF"/>
<rect x="777.36" y="1115.16" width="11.06" height="11.06" fill="#1CD5EB"/>
<rect x="788.42" y="1115.16" width="11.06" height="11.06" fill="#4490C6"/>
<rect x="799.49" y="1115.16" width="33.19" height="11.06" fill="#1CD5EB"/>
<rect x="843.74" y="1115.16" width="11.06" height="11.06" fill="#FF7500"/>
<rect x="854.81" y="1115.16" width="11.06" height="11.06" fill="#1CD5EB"/>
<rect x="865.87" y="1115.16" width="11.06" height="11.06" fill="#FF7500"/>
<rect x="876.94" y="1115.16" width="11.06" height="11.06" fill="#FD1A02"/>
<rect x="888.00" y="1115.16" width="11.06" height="11.06" fill="#1CD5EB"/>
<rect x="722.04" y="1104.09" width="11.06" height="11.06" fill="#FF7500"/>
<rect x="733.10" y="1104.09" width="11.06" height="11.06" fill="#1CD5EB"/>
<rect x="755.23" y="1104.09" width="22.13" height="11.06" fill="#FF7500"/>
<rect x="777.36" y="1104.09" width="22.13" height="11.06" fill="#1CD5EB"/>
<rect x="799.49" y="1104.09" width="22.13" height="11.06" fill="#FF7500"/>
<rect x="821.62" y="1104.09" width="11.06" height="11.06" fill="#1CD5EB"/>
<rect x="832.68" y="1104.09" width="11.06" height="11.06" fill="#FF7500"/>
<rect x="854.81" y="1104.09" width="11.06" height="11.06" fill="#FF7500"/>
<rect x="865.87" y="1104.09" width="11.06" height="11.06" fill="#1CD5EB"/>
<rect x="876.94" y="1104.09" width="11.06" height="11.06" fill="#FF7500"/>
<rect x="888.00" y="1104.09" width="11.06" height="11.06" fill="#FD1A02"/>
<rect x="899.06" y="1104.09" width="11.06" height="11.06" fill="#FF7500"/>
<rect x="766.30" y="1093.03" width="11.06" height="11.06" fill="#33ADD8"/>
<rect x="799.49" y="1093.03" width="11.06" height="11.06" fill="#FF7500"/>
<rect x="810.55" y="1093.03" width="11.06" height="11.06" fill="#FF3200"/>
<rect x="821.62" y="1093.03" width="11.06" height="11.06" fill="#FF7500"/>
<rect x="832.68" y="1093.03" width="11.06" height="11.06" fill="#1CD5EB"/>
<rect x="843.74" y="1093.03" width="11.06" height="11.06" fill="#FF7500"/>
<rect x="865.87" y="1093.03" width="11.06" height="11.06" fill="#FF7500"/>
<rect x="876.94" y="1093.03" width="11.06" height="11.06" fill="#1CD5EB"/>
<rect x="888.00" y="1093.03" width="11.06" height="11.06" fill="#FE8E00"/>
<rect x="899.06" y="1093.03" width="11.06" height="11.06" fill="#FF3200"/>
<rect x="810.55" y="1081.96" width="11.06" height="11.06" fill="#1CD5EB"/>
<rect x="821.62" y="1081.96" width="11.06" height="11.06" fill="#FF3200"/>
<rect x="832.68" y="1081.96" width="11.06" height="11.06" fill="#FF7500"/>
<rect x="843.74" y="1081.96" width="11.06" height="11.06" fill="#1CD5EB"/>
<rect x="854.81" y="1081.96" width="11.06" height="11.06" fill="#FF7500"/>
<rect x="876.94" y="1081.96" width="11.06" height="11.06" fill="#FF7500"/>
<rect x="888.00" y="1081.96" width="33.19" height="11.06" fill="#1CD5EB"/>
<rect x="722.04" y="1070.90" width="11.06" height="11.06" fill="#FE8E00"/>
<rect x="766.30" y="1070.90" width="11.06" height="11.06" fill="#FF7500"/>
<rect x="821.62" y="1070.90" width="11.06" height="11.06" fill="#1CD5EB"/>
<rect x="832.68" y="1070.90" width="11.06" height="11.06" fill="#FD1A02"/>
<rect x="843.74" y="1070.90" width="11.06" height="11.06" fill="#FF7500"/>
<rect x="854.81" y="1070.90" width="11.06" height="11.06" fill="#1CD5EB"/>
<rect x="865.87" y="1070.90" width="11.06" height="11.06" fill="#FF7500"/>
<rect x="888.00" y="1070.90" width="11.06" height="11.06" fill="#FF7500"/>
<rect x="899.06" y="1070.90" width="22.13" height="11.06" fill="#1CD5EB"/>
<rect x="1573.97" y="1070.90" width="11.06" height="11.06" fill="#4490C6"/>
<rect x="832.68" y="1059.84" width="11.06" height="11.06" fill="#1CD5EB"/>
<rect x="843.74" y="1059.84" width="11.06" height="11.06" fill="#FD1A02"/>
<rect x="854.81" y="1059.84" width="11.06" height="11.06" fill="#FE8E00"/>
<rect x="865.87" y="1059.84" width="11.06" height="11.06" fill="#1CD5EB"/>
<rect x="876.94" y="1059.84" width="11.06" height="11.06" fill="#FF7500"/>
<rect x="899.06" y="1059.84" width="11.06" height="11.06" fill="#FF7500"/>
<rect x="910.13" y="1059.84" width="11.06" height="11.06" fill="#FFA600"/>
<rect x="921.19" y="1059.84" width="11.06" height="11.06" fill="#1CD5EB"/>
<rect x="843.74" y="1048.77" width="11.06" height="11.06" fill="#FF7500"/>
<rect x="854.81" y="1048.77" width="11.06" height="11.06" fill="#FF3200"/>
<rect x="865.87" y="1048.77" width="22.13" height="11.06" fill="#1CD5EB"/>
<rect x="888.00" y="1048.77" width="11.06" height="11.06" fill="#FF7500"/>
<rect x="910.13" y="1048.77" width="11.06" height="11.06" fill="#FF7500"/>
<rect x="921.19" y="1048.77" width="11.06" height="11.06" fill="#FE8E00"/>
<rect x="932.26" y="1048.77" width="11.06" height="11.06" fill="#05FFFF"/>
<rect x="865.87" y="1037.71" width="22.13" height="11.06" fill="#1CD5EB"/>
<rect x="888.00" y="1037.71" width="11.06" height="11.06" fill="#FFA600"/>
<rect x="899.06" y="1037.71" width="11.06" height="11.06" fill="#FF7500"/>
<rect x="921.19" y="1037.71" width="11.06" height="11.06" fill="#FF7500"/>
<rect x="932.26" y="1037.71" width="11.06" height="11.06" fill="#05FFFF"/>
<rect x="943.32" y="1037.71" width="11.06" height="11.06" fill="#1CD5EB"/>
<rect x="888.00" y="1026.64" width="11.06" height="11.06" fill="#1CD5EB"/>
<rect x="899.06" y="1026.64" width="11.06" height="11.06" fill="#FE8E00"/>
<rect x="910.13" y="1026.64" width="11.06" height="11.06" fill="#FF7500"/>
<rect x="932.26" y="1026.64" width="22.13" height="11.06" fill="#FF5C00"/>
<rect x="954.38" y="1026.64" width="11.06" height="11.06" fill="#1CD5EB"/>
<rect x="899.06" y="1015.58" width="22.13" height="11.06" fill="#05FFFF"/>
<rect x="921.19" y="1015.58" width="11.06" height="11.06" fill="#FF5C00"/>
<rect x="943.32" y="1015.58" width="11.06" height="11.06" fill="#FF7500"/>
<rect x="954.38" y="1015.58" width="11.06" height="11.06" fill="#FF5C00"/>
<rect x="910.13" y="1004.52" width="11.06" height="11.06" fill="#1CD5EB"/>
<rect x="921.19" y="1004.52" width="11.06" height="11.06" fill="#FF5C00"/>
<rect x="932.26" y="1004.52" width="11.06" height="11.06" fill="#FF7500"/>
<rect x="954.38" y="1004.52" width="11.06" height="11.06" fill="#FF7500"/>
<rect x="965.45" y="1004.52" width="11.06" height="11.06" fill="#05FFFF"/>
<rect x="921.19" y="993.45" width="11.06" height="11.06" fill="#1CD5EB"/>
<rect x="932.26" y="993.45" width="11.06" height="11.06" fill="#FF5C00"/>
<rect x="943.32" y="993.45" width="11.06" height="11.06" fill="#FF7500"/>
<rect x="965.45" y="993.45" width="11.06" height="11.06" fill="#FF7500"/>
<rect x="976.51" y="993.45" width="11.06" height="11.06" fill="#FE8E00"/>
<rect x="943.32" y="982.39" width="11.06" height="11.06" fill="#05FFFF"/>
<rect x="954.38" y="982.39" width="11.06" height="11.06" fill="#FF7500"/>
<rect x="976.51" y="982.39" width="11.06" height="11.06" fill="#FF7500"/>
<rect x="987.58" y="982.39" width="11.06" height="11.06" fill="#FF5C00"/>
<rect x="954.38" y="971.32" width="11.06" height="11.06" fill="#FE8E00"/>
<rect x="965.45" y="971.32" width="11.06" height="11.06" fill="#FF7500"/>
<rect x="987.58" y="971.32" width="11.06" height="11.06" fill="#FF7500"/>
<rect x="998.64" y="971.32" width="11.06" height="11.06" fill="#FF5C00"/>
<rect x="965.45" y="960.26" width="11.06" height="11.06" fill="#FF5C00"/>
<rect x="976.51" y="960.26" width="11.06" height="11.06" fill="#FF7500"/>
<rect x="998.64" y="960.26" width="11.06" height="11.06" fill="#FF7500"/>
<rect x="1009.70" y="960.26" width="11.06" height="11.06" fill="#FFA600"/>
<rect x="976.51" y="949.20" width="11.06" height="11.06" fill="#FF5C00"/>
<rect x="987.58" y="949.20" width="11.06" height="11.06" fill="#FF7500"/>
<rect x="1009.70" y="949.20" width="11.06" height="11.06" fill="#FF7500"/>
<rect x="1020.77" y="949.20" width="11.06" height="11.06" fill="#05FFFF"/>
<rect x="987.58" y="938.13" width="11.06" height="11.06" fill="#FFA600"/>
<rect x="998.64" y="938.13" width="11.06" height="11.06" fill="#FF7500"/>
<rect x="1020.77" y="938.13" width="11.06" height="11.06" fill="#FF7500"/>
<rect x="1031.83" y="938.13" width="11.06" height="11.06" fill="#FFA600"/>
<rect x="998.64" y="927.07" width="11.06" height="11.06" fill="#05FFFF"/>
<rect x="1009.70" y="927.07" width="11.06" height="11.06" fill="#FF7500"/>
<rect x="1031.83" y="927.07" width="11.06" height="11.06" fill="#FF7500"/>
<rect x="1042.90" y="927.07" width="11.06" height="11.06" fill="#FFA600"/>
<rect x="1009.70" y="916.00" width="11.06" height="11.06" fill="#FFA600"/>
<rect x="1020.77" y="916.00" width="11.06" height="11.06" fill="#FF7500"/>
<rect x="1042.90" y="916.00" width="11.06" height="11.06" fill="#FF7500"/>
<rect x="1053.96" y="916.00" width="22.13" height="11.06" fill="#FFA600"/>
<rect x="1020.77" y="904.94" width="11.06" height="11.06" fill="#FFA600"/>
<rect x="1031.83" y="904.94" width="11.06" height="11.06" fill="#FF7500"/>
<rect x="1053.96" y="904.94" width="11.06" height="11.06" fill="#1CD5EB"/>
<rect x="1065.02" y="904.94" width="11.06" height="11.06" fill="#FFA600"/>
<rect x="1031.83" y="893.88" width="11.06" height="11.06" fill="#FFA600"/>
<rect x="1042.90" y="893.88" width="11.06" height="11.06" fill="#1CD5EB"/>
<rect x="1065.02" y="893.88" width="11.06" height="11.06" fill="#FF7500"/>
<rect x="1076.09" y="893.88" width="11.06" height="11.06" fill="#FFA600"/>
<rect x="1087.15" y="893.88" width="11.06" height="11.06" fill="#05FFFF"/>
<rect x="1031.83" y="882.81" width="22.13" height="11.06" fill="#FFA600"/>
<rect x="1053.96" y="882.81" width="11.06" height="11.06" fill="#FF7500"/>
<rect x="1076.09" y="882.81" width="11.06" height="11.06" fill="#FF7500"/>
<rect x="1087.15" y="882.81" width="11.06" height="11.06" fill="#FE8E00"/>
<rect x="1098.22" y="882.81" width="11.06" height="11.06" fill="#FF7500"/>
<rect x="1053.96" y="871.75" width="11.06" height="11.06" fill="#FFA600"/>
<rect x="1065.02" y="871.75" width="11.06" height="11.06" fill="#FF7500"/>
<rect x="1087.15" y="871.75" width="11.06" height="11.06" fill="#FF7500"/>
<rect x="1098.22" y="871.75" width="11.06" height="11.06" fill="#FF5C00"/>
<rect x="1109.28" y="871.75" width="11.06" height="11.06" fill="#05FFFF"/>
<rect x="1053.96" y="860.68" width="11.06" height="11.06" fill="#05FFFF"/>
<rect x="1065.02" y="860.68" width="11.06" height="11.06" fill="#FE8E00"/>
<rect x="1076.09" y="860.68" width="11.06" height="11.06" fill="#FF7500"/>
<rect x="1098.22" y="860.68" width="11.06" height="11.06" fill="#FF7500"/>
<rect x="1109.28" y="860.68" width="11.06" height="11.06" fill="#1CD5EB"/>
<rect x="1065.02" y="849.62" width="11.06" height="11.06" fill="#FF7500"/>
<rect x="1076.09" y="849.62" width="11.06" height="11.06" fill="#FF5C00"/>
<rect x="1087.15" y="849.62" width="11.06" height="11.06" fill="#FF7500"/>
<rect x="1109.28" y="849.62" width="11.06" height="11.06" fill="#FF7500"/>
<rect x="1120.34" y="849.62" width="11.06" height="11.06" fill="#05FFFF"/>
<rect x="1076.09" y="838.56" width="11.06" height="11.06" fill="#05FFFF"/>
<rect x="1087.15" y="838.56" width="11.06" height="11.06" fill="#1CD5EB"/>
<rect x="1098.22" y="838.56" width="11.06" height="11.06" fill="#FF7500"/>
<rect x="1120.34" y="838.56" width="11.06" height="11.06" fill="#FF7500"/>
<rect x="1131.41" y="838.56" width="11.06" height="11.06" fill="#05FFFF"/>
<rect x="1142.47" y="838.56" width="11.06" height="11.06" fill="#FFA600"/>
<rect x="1098.22" y="827.49" width="11.06" height="11.06" fill="#05FFFF"/>
<rect x="1109.28" y="827.49" width="11.06" height="11.06" fill="#FF7500"/>
<rect x="1131.41" y="827.49" width="11.06" height="11.06" fill="#FF7500"/>
<rect x="1142.47" y="827.49" width="11.06" height="11.06" fill="#FFA600"/>
<rect x="1109.28" y="816.43" width="11.06" height="11.06" fill="#05FFFF"/>
<rect x="1120.34" y="816.43" width="11.06" height="11.06" fill="#FF7500"/>
<rect x="1142.47" y="816.43" width="11.06" height="11.06" fill="#FF7500"/>
<rect x="1153.54" y="816.43" width="11.06" height="11.06" fill="#FF5C00"/>
<rect x="1164.60" y="816.43" width="11.06" height="11.06" fill="#FF7500"/>
<rect x="1109.28" y="805.36" width="22.13" height="11.06" fill="#FFA600"/>
<rect x="1131.41" y="805.36" width="11.06" height="11.06" fill="#FF7500"/>
<rect x="1153.54" y="805.36" width="11.06" height="11.06" fill="#FF7500"/>
<rect x="1164.60" y="805.36" width="11.06" height="11.06" fill="#FF5C00"/>
<rect x="1175.66" y="805.36" width="11.06" height="11.06" fill="#1CD5EB"/>
<rect x="1131.41" y="794.30" width="11.06" height="11.06" fill="#FF5C00"/>
<rect x="1142.47" y="794.30" width="11.06" height="11.06" fill="#FF7500"/>
<rect x="1164.60" y="794.30" width="11.06" height="11.06" fill="#FF7500"/>
<rect x="1175.66" y="794.30" width="22.13" height="11.06" fill="#1CD5EB"/>
<rect x="1131.41" y="783.24" width="11.06" height="11.06" fill="#FF7500"/>
<rect x="1142.47" y="783.24" width="11.06" height="11.06" fill="#FF5C00"/>
<rect x="1153.54" y="783.24" width="11.06" height="11.06" fill="#FF7500"/>
<rect x="1175.66" y="783.24" width="11.06" height="11.06" fill="#FF7500"/>
<rect x="1186.73" y="783.24" width="22.13" height="11.06" fill="#1CD5EB"/>
<rect x="1142.47" y="772.17" width="22.13" height="11.06" fill="#1CD5EB"/>
<rect x="1164.60" y="772.17" width="11.06" height="11.06" fill="#FF7500"/>
<rect x="1186.73" y="772.17" width="11.06" height="11.06" fill="#1CD5EB"/>
<rect x="1197.79" y="772.17" width="11.06" height="11.06" fill="#05FFFF"/>
<rect x="1208.86" y="772.17" width="11.06" height="11.06" fill="#1CD5EB"/>
<rect x="1153.54" y="761.11" width="33.19" height="11.06" fill="#1CD5EB"/>
<rect x="1197.79" y="761.11" width="11.06" height="11.06" fill="#FF7500"/>
<rect x="1208.86" y="761.11" width="11.06" height="11.06" fill="#FF5C00"/>
<rect x="1219.92" y="761.11" width="11.06" height="11.06" fill="#FF7500"/>
<rect x="1164.60" y="750.04" width="11.06" height="11.06" fill="#1CD5EB"/>
<rect x="1175.66" y="750.04" width="11.06" height="11.06" fill="#05FFFF"/>
<rect x="1186.73" y="750.04" width="11.06" height="11.06" fill="#FF7500"/>
<rect x="1208.86" y="750.04" width="11.06" height="11.06" fill="#FF7500"/>
<rect x="1219.92" y="750.04" width="11.06" height="11.06" fill="#FF5C00"/>
<rect x="1230.98" y="750.04" width="11.06" height="11.06" fill="#FF7500"/>
<rect x="1175.66" y="738.98" width="11.06" height="11.06" fill="#1CD5EB"/>
<rect x="1186.73" y="738.98" width="11.06" height="11.06" fill="#FF5C00"/>
<rect x="1197.79" y="738.98" width="11.06" height="11.06" fill="#FF7500"/>
<rect x="1219.92" y="738.98" width="11.06" height="11.06" fill="#FF7500"/>
<rect x="1230.98" y="738.98" width="11.06" height="11.06" fill="#FF5C00"/>
<rect x="1242.05" y="738.98" width="11.06" height="11.06" fill="#1CD5EB"/>
<rect x="1186.73" y="727.92" width="11.06" height="11.06" fill="#FF7500"/>
<rect x="1197.79" y="727.92" width="11.06" height="11.06" fill="#FF5C00"/>
<rect x="1208.86" y="727.92" width="11.06" height="11.06" fill="#FF7500"/>
<rect x="1230.98" y="727.92" width="11.06" height="11.06" fill="#FF7500"/>
<rect x="1242.05" y="727.92" width="11.06" height="11.06" fill="#05FFFF"/>
<rect x="1253.11" y="727.92" width="11.06" height="11.06" fill="#1CD5EB"/>
<rect x="1197.79" y="716.85" width="11.06" height="11.06" fill="#FF7500"/>
<rect x="1208.86" y="716.85" width="11.06" height="11.06" fill="#FF5C00"/>
<rect x="1219.92" y="716.85" width="11.06" height="11.06" fill="#FF7500"/>
<rect x="1242.05" y="716.85" width="11.06" height="11.06" fill="#FF7500"/>
<rect x="1253.11" y="716.85" width="11.06" height="11.06" fill="#05FFFF"/>
<rect x="1264.18" y="716.85" width="11.06" height="11.06" fill="#1CD5EB"/>
<rect x="1208.86" y="705.79" width="11.06" height="11.06" fill="#1CD5EB"/>
<rect x="1219.92" y="705.79" width="11.06" height="11.06" fill="#05FFFF"/>
<rect x="1230.98" y="705.79" width="11.06" height="11.06" fill="#FF7500"/>
<rect x="1253.11" y="705.79" width="11.06" height="11.06" fill="#FF7500"/>
<rect x="1264.18" y="705.79" width="11.06" height="11.06" fill="#FFA600"/>
<rect x="1275.24" y="705.79" width="11.06" height="11.06" fill="#1CD5EB"/>
<rect x="1219.92" y="694.72" width="11.06" height="11.06" fill="#1CD5EB"/>
<rect x="1230.98" y="694.72" width="11.06" height="11.06" fill="#05FFFF"/>
<rect x="1242.05" y="694.72" width="11.06" height="11.06" fill="#FF7500"/>
<rect x="1264.18" y="694.72" width="11.06" height="11.06" fill="#FF7500"/>
<rect x="1275.24" y="694.72" width="11.06" height="11.06" fill="#FF5C00"/>
<rect x="1286.30" y="694.72" width="11.06" height="11.06" fill="#FF3200"/>
<rect x="1230.98" y="683.66" width="11.06" height="11.06" fill="#1CD5EB"/>
<rect x="1242.05" y="683.66" width="11.06" height="11.06" fill="#FFA600"/>
<rect x="1253.11" y="683.66" width="11.06" height="11.06" fill="#FF7500"/>
<rect x="1275.24" y="683.66" width="11.06" height="11.06" fill="#FF7500"/>
<rect x="1286.30" y="683.66" width="11.06" height="11.06" fill="#FF5C00"/>
<rect x="1297.37" y="683.66" width="11.06" height="11.06" fill="#FF3200"/>
<rect x="1242.05" y="672.60" width="11.06" height="11.06" fill="#1CD5EB"/>
<rect x="1253.11" y="672.60" width="11.06" height="11.06" fill="#FF5C00"/>
<rect x="1264.18" y="672.60" width="11.06" height="11.06" fill="#FF7500"/>
<rect x="1286.30" y="672.60" width="11.06" height="11.06" fill="#FF7500"/>
<rect x="1297.37" y="672.60" width="11.06" height="11.06" fill="#FF5C00"/>
<rect x="1308.43" y="672.60" width="11.06" height="11.06" fill="#FF3200"/>
<rect x="1253.11" y="661.53" width="11.06" height="11.06" fill="#FF3200"/>
<rect x="1264.18" y="661.53" width="11.06" height="11.06" fill="#FF5C00"/>
<rect x="1275.24" y="661.53" width="11.06" height="11.06" fill="#FF7500"/>
<rect x="1297.37" y="661.53" width="11.06" height="11.06" fill="#FF7500"/>
<rect x="1308.43" y="661.53" width="11.06" height="11.06" fill="#FF3200"/>
<rect x="1319.50" y="661.53" width="11.06" height="11.06" fill="#1CD5EB"/>
<rect x="1264.18" y="650.47" width="11.06" height="11.06" fill="#FF3200"/>
<rect x="1275.24" y="650.47" width="11.06" height="11.06" fill="#FF5C00"/>
<rect x="1286.30" y="650.47" width="11.06" height="11.06" fill="#FF7500"/>
<rect x="1308.43" y="650.47" width="11.06" height="11.06" fill="#FF7500"/>
<rect x="1319.50" y="650.47" width="11.06" height="11.06" fill="#FF5C00"/>
<rect x="1330.56" y="650.47" width="11.06" height="11.06" fill="#FFA600"/>
<rect x="1275.24" y="639.40" width="22.13" height="11.06" fill="#FF3200"/>
<rect x="1297.37" y="639.40" width="11.06" height="11.06" fill="#FF7500"/>
<rect x="1319.50" y="639.40" width="11.06" height="11.06" fill="#FF7500"/>
<rect x="1330.56" y="639.40" width="11.06" height="11.06" fill="#FF3200"/>
<rect x="1286.30" y="628.34" width="11.06" height="11.06" fill="#1CD5EB"/>
<rect x="1297.37" y="628.34" width="11.06" height="11.06" fill="#FF5C00"/>
<rect x="1308.43" y="628.34" width="11.06" height="11.06" fill="#FF7500"/>
<rect x="1330.56" y="628.34" width="11.06" height="11.06" fill="#FF7500"/>
<rect x="1341.62" y="628.34" width="11.06" height="11.06" fill="#FFA600"/>
<rect x="1352.69" y="628.34" width="11.06" height="11.06" fill="#FF7500"/>
<rect x="1297.37" y="617.28" width="11.06" height="11.06" fill="#FFA600"/>
<rect x="1308.43" y="617.28" width="11.06" height="11.06" fill="#FF3200"/>
<rect x="1319.50" y="617.28" width="11.06" height="11.06" fill="#FF7500"/>
<rect x="1341.62" y="617.28" width="11.06" height="11.06" fill="#FF7500"/>
<rect x="1352.69" y="617.28" width="11.06" height="11.06" fill="#FFA600"/>
<rect x="1319.50" y="606.21" width="11.06" height="11.06" fill="#FFA600"/>
<rect x="1330.56" y="606.21" width="11.06" height="11.06" fill="#FF7500"/>
<rect x="1352.69" y="606.21" width="11.06" height="11.06" fill="#FF7500"/>
<rect x="1363.75" y="606.21" width="11.06" height="11.06" fill="#FF5C00"/>
<rect x="1319.50" y="595.15" width="11.06" height="11.06" fill="#FF7500"/>
<rect x="1330.56" y="595.15" width="11.06" height="11.06" fill="#FFA600"/>
<rect x="1341.62" y="595.15" width="11.06" height="11.06" fill="#FF7500"/>
<rect x="1363.75" y="595.15" width="11.06" height="11.06" fill="#FF7500"/>
<rect x="1374.82" y="595.15" width="11.06" height="11.06" fill="#FF5C00"/>
<rect x="1385.88" y="595.15" width="11.06" height="11.06" fill="#FF7500"/>
<rect x="1341.62" y="584.08" width="11.06" height="11.06" fill="#FF5C00"/>
<rect x="1352.69" y="584.08" width="11.06" height="11.06" fill="#FF7500"/>
<rect x="1374.82" y="584.08" width="11.06" height="11.06" fill="#FF7500"/>
<rect x="1385.88" y="584.08" width="11.06" height="11.06" fill="#05FFFF"/>
<rect x="1396.94" y="584.08" width="11.06" height="11.06" fill="#1CD5EB"/>
<rect x="1352.69" y="573.02" width="11.06" height="11.06" fill="#FF5C00"/>
<rect x="1363.75" y="573.02" width="11.06" height="11.06" fill="#FF7500"/>
<rect x="1385.88" y="573.02" width="11.06" height="11.06" fill="#FF7500"/>
<rect x="1396.94" y="573.02" width="22.13" height="11.06" fill="#05FFFF"/>
<rect x="1352.69" y="561.96" width="11.06" height="11.06" fill="#FF7500"/>
<rect x="1363.75" y="561.96" width="11.06" height="11.06" fill="#05FFFF"/>
<rect x="1374.82" y="561.96" width="11.06" height="11.06" fill="#FF7500"/>
<rect x="1396.94" y="561.96" width="11.06" height="11.06" fill="#FF7500"/>
<rect x="1408.01" y="561.96" width="11.06" height="11.06" fill="#FFA600"/>
<rect x="1363.75" y="550.89" width="11.06" height="11.06" fill="#1CD5EB"/>
<rect x="1374.82" y="550.89" width="11.06" height="11.06" fill="#05FFFF"/>
<rect x="1385.88" y="550.89" width="11.06" height="11.06" fill="#FF7500"/>
<rect x="1408.01" y="550.89" width="11.06" height="11.06" fill="#FF7500"/>
<rect x="1419.07" y="550.89" width="11.06" height="11.06" fill="#FFA600"/>
<rect x="1430.14" y="550.89" width="11.06" height="11.06" fill="#FF7500"/>
<rect x="1374.82" y="539.83" width="11.06" height="11.06" fill="#05FFFF"/>
<rect x="1385.88" y="539.83" width="11.06" height="11.06" fill="#FFA600"/>
<rect x="1396.94" y="539.83" width="11.06" height="11.06" fill="#FF7500"/>
<rect x="1419.07" y="539.83" width="11.06" height="11.06" fill="#FF7500"/>
<rect x="1430.14" y="539.83" width="22.13" height="11.06" fill="#1CD5EB"/>
<rect x="1396.94" y="528.76" width="11.06" height="11.06" fill="#FFA600"/>
<rect x="1408.01" y="528.76" width="11.06" height="11.06" fill="#FF7500"/>
<rect x="1430.14" y="528.76" width="11.06" height="11.06" fill="#FF7500"/>
<rect x="1441.20" y="528.76" width="11.06" height="11.06" fill="#1CD5EB"/>
<rect x="1452.26" y="528.76" width="11.06" height="11.06" fill="#FF7500"/>
<rect x="1396.94" y="517.70" width="11.06" height="11.06" fill="#FF7500"/>
<rect x="1408.01" y="517.70" width="11.06" height="11.06" fill="#1CD5EB"/>
<rect x="1419.07" y="517.70" width="11.06" height="11.06" fill="#FF7500"/>
<rect x="1441.20" y="517.70" width="11.06" height="11.06" fill="#FF7500"/>
<rect x="1452.26" y="517.70" width="11.06" height="11.06" fill="#1CD5EB"/>
<rect x="1463.33" y="517.70" width="11.06" height="11.06" fill="#FF7500"/>
<rect x="1408.01" y="506.64" width="22.13" height="11.06" fill="#1CD5EB"/>
<rect x="1430.14" y="506.64" width="11.06" height="11.06" fill="#FF7500"/>
<rect x="1452.26" y="506.64" width="11.06" height="11.06" fill="#FF7500"/>
<rect x="1463.33" y="506.64" width="11.06" height="11.06" fill="#1CD5EB"/>
<rect x="1474.39" y="506.64" width="11.06" height="11.06" fill="#FF7500"/>
<rect x="1419.07" y="495.57" width="11.06" height="11.06" fill="#FF7500"/>
<rect x="1430.14" y="495.57" width="11.06" height="11.06" fill="#1CD5EB"/>
<rect x="1441.20" y="495.57" width="11.06" height="11.06" fill="#FF7500"/>
<rect x="1463.33" y="495.57" width="11.06" height="11.06" fill="#FF7500"/>
<rect x="1474.39" y="495.57" width="11.06" height="11.06" fill="#1CD5EB"/>
<rect x="1485.46" y="495.57" width="11.06" height="11.06" fill="#FF7500"/>
<rect x="1430.14" y="484.51" width="11.06" height="11.06" fill="#FF7500"/>
<rect x="1441.20" y="484.51" width="11.06" height="11.06" fill="#1CD5EB"/>
<rect x="1452.26" y="484.51" width="11.06" height="11.06" fill="#FF7500"/>
<rect x="1474.39" y="484.51" width="11.06" height="11.06" fill="#FF7500"/>
<rect x="1485.46" y="484.51" width="11.06" height="11.06" fill="#1CD5EB"/>
<rect x="1496.52" y="484.51" width="11.06" height="11.06" fill="#FFA600"/>
<rect x="1441.20" y="473.44" width="11.06" height="11.06" fill="#FF7500"/>
<rect x="1452.26" y="473.44" width="11.06" height="11.06" fill="#1CD5EB"/>
<rect x="1463.33" y="473.44" width="11.06" height="11.06" fill="#FF7500"/>
<rect x="1485.46" y="473.44" width="11.06" height="11.06" fill="#FF7500"/>
<rect x="1496.52" y="473.44" width="22.13" height="11.06" fill="#1CD5EB"/>
<rect x="1452.26" y="462.38" width="11.06" height="11.06" fill="#FF7500"/>
<rect x="1463.33" y="462.38" width="11.06" height="11.06" fill="#1CD5EB"/>
<rect x="1474.39" y="462.38" width="11.06" height="11.06" fill="#FF7500"/>
<rect x="1496.52" y="462.38" width="11.06" height="11.06" fill="#FF7500"/>
<rect x="1507.58" y="462.38" width="11.06" height="11.06" fill="#FE8E00"/>
<rect x="1518.65" y="462.38" width="11.06" height="11.06" fill="#1CD5EB"/>
<rect x="1463.33" y="451.32" width="11.06" height="11.06" fill="#FFA600"/>
<rect x="1474.39" y="451.32" width="11.06" height="11.06" fill="#1CD5EB"/>
<rect x="1485.46" y="451.32" width="11.06" height="11.06" fill="#FF7500"/>
<rect x="1507.58" y="451.32" width="11.06" height="11.06" fill="#FF7500"/>
<rect x="1518.65" y="451.32" width="11.06" height="11.06" fill="#05FFFF"/>
<rect x="1529.71" y="451.32" width="11.06" height="11.06" fill="#1CD5EB"/>
<rect x="1474.39" y="440.25" width="11.06" height="11.06" fill="#1CD5EB"/>
<rect x="1485.46" y="440.25" width="11.06" height="11.06" fill="#FE8E00"/>
<rect x="1496.52" y="440.25" width="11.06" height="11.06" fill="#FF7500"/>
<rect x="1518.65" y="440.25" width="11.06" height="11.06" fill="#FF7500"/>
<rect x="1529.71" y="440.25" width="11.06" height="11.06" fill="#05FFFF"/>
<rect x="1485.46" y="429.19" width="11.06" height="11.06" fill="#1CD5EB"/>
<rect x="1496.52" y="429.19" width="11.06" height="11.06" fill="#05FFFF"/>
<rect x="1507.58" y="429.19" width="11.06" height="11.06" fill="#FF7500"/>
<rect x="1529.71" y="429.19" width="11.06" height="11.06" fill="#FF7500"/>
<rect x="1540.78" y="429.19" width="11.06" height="11.06" fill="#FD1A02"/>
<rect x="567.14" y="418.12" width="11.06" height="11.06" fill="#FF3200"/>
<rect x="1496.52" y="418.12" width="11.06" height="11.06" fill="#1CD5EB"/>
<rect x="1507.58" y="418.12" width="11.06" height="11.06" fill="#05FFFF"/>
<rect x="1518.65" y="418.12" width="11.06" height="11.06" fill="#FF7500"/>
<rect x="1540.78" y="418.12" width="11.06" height="11.06" fill="#FF7500"/>
<rect x="1551.84" y="418.12" width="11.06" height="11.06" fill="#FD1A02"/>
<rect x="567.14" y="407.06" width="11.06" height="11.06" fill="#FF7500"/>
<rect x="578.21" y="407.06" width="22.13" height="11.06" fill="#FF5C00"/>
<rect x="1518.65" y="407.06" width="11.06" height="11.06" fill="#FD1A02"/>
<rect x="1529.71" y="407.06" width="11.06" height="11.06" fill="#FF7500"/>
<rect x="1551.84" y="407.06" width="11.06" height="11.06" fill="#FF7500"/>
<rect x="1562.90" y="407.06" width="11.06" height="11.06" fill="#FD1A02"/>
<rect x="567.14" y="396.00" width="33.19" height="11.06" fill="#FF5C00"/>
<rect x="600.34" y="396.00" width="11.06" height="11.06" fill="#FF3200"/>
<rect x="1529.71" y="396.00" width="11.06" height="11.06" fill="#FD1A02"/>
<rect x="1540.78" y="396.00" width="11.06" height="11.06" fill="#FF7500"/>
<rect x="1562.90" y="396.00" width="11.06" height="11.06" fill="#FF7500"/>
<rect x="1573.97" y="396.00" width="11.06" height="11.06" fill="#FD1A02"/>
<rect x="567.14" y="384.93" width="11.06" height="11.06" fill="#FF5C00"/>
<rect x="578.21" y="384.93" width="44.26" height="11.06" fill="#FF3200"/>
<rect x="666.72" y="384.93" width="11.06" height="11.06" fill="#33ADD8"/>
<rect x="1540.78" y="384.93" width="11.06" height="11.06" fill="#FD1A02"/>
<rect x="1551.84" y="384.93" width="11.06" height="11.06" fill="#FF7500"/>
<rect x="1573.97" y="384.93" width="11.06" height="11.06" fill="#FF7500"/>
<rect x="1585.03" y="384.93" width="22.13" height="11.06" fill="#FD1A02"/>
<rect x="578.21" y="373.87" width="11.06" height="11.06" fill="#FF3200"/>
<rect x="589.27" y="373.87" width="22.13" height="11.06" fill="#FD1A02"/>
<rect x="611.40" y="373.87" width="11.06" height="11.06" fill="#FF3200"/>
<rect x="622.46" y="373.87" width="11.06" height="11.06" fill="#FD1A02"/>
<rect x="876.94" y="373.87" width="11.06" height="11.06" fill="#4490C6"/>
<rect x="1551.84" y="373.87" width="11.06" height="11.06" fill="#FD1A02"/>
<rect x="1562.90" y="373.87" width="11.06" height="11.06" fill="#FF7500"/>
<rect x="1585.03" y="373.87" width="11.06" height="11.06" fill="#FF7500"/>
<rect x="1596.10" y="373.87" width="11.06" height="11.06" fill="#FD1A02"/>
<rect x="589.27" y="362.80" width="11.06" height="11.06" fill="#FD1A02"/>
<rect x="600.34" y="362.80" width="22.13" height="11.06" fill="#FF3200"/>
<rect x="622.46" y="362.80" width="11.06" height="11.06" fill="#FD1A02"/>
<rect x="633.53" y="362.80" width="11.06" height="11.06" fill="#FFA600"/>
<rect x="1562.90" y="362.80" width="11.06" height="11.06" fill="#FD1A02"/>
<rect x="1573.97" y="362.80" width="11.06" height="11.06" fill="#FF7500"/>
<rect x="1596.10" y="362.80" width="11.06" height="11.06" fill="#FF7500"/>
<rect x="1607.16" y="362.80" width="11.06" height="11.06" fill="#FD1A02"/>
<rect x="1618.22" y="362.80" width="11.06" height="11.06" fill="#FE8E00"/>
<rect x="600.34" y="351.74" width="22.13" height="11.06" fill="#FF3200"/>
<rect x="622.46" y="351.74" width="11.06" height="11.06" fill="#FD1A02"/>
<rect x="633.53" y="351.74" width="11.06" height="11.06" fill="#05FFFF"/>
<rect x="1562.90" y="351.74" width="22.13" height="11.06" fill="#FD1A02"/>
<rect x="1585.03" y="351.74" width="11.06" height="11.06" fill="#FF7500"/>
<rect x="1607.16" y="351.74" width="11.06" height="11.06" fill="#FF0000"/>
<rect x="1618.22" y="351.74" width="11.06" height="11.06" fill="#FFA600"/>
<rect x="1629.29" y="351.74" width="11.06" height="11.06" fill="#1CD5EB"/>
<rect x="611.40" y="340.68" width="22.13" height="11.06" fill="#FD1A02"/>
<rect x="1585.03" y="340.68" width="11.06" height="11.06" fill="#FD1A02"/>
<rect x="1596.10" y="340.68" width="11.06" height="11.06" fill="#FF0000"/>
<rect x="1618.22" y="340.68" width="11.06" height="11.06" fill="#FF7500"/>
<rect x="1629.29" y="340.68" width="11.06" height="11.06" fill="#05FFFF"/>
<rect x="1640.35" y="340.68" width="11.06" height="11.06" fill="#1CD5EB"/>
<rect x="622.46" y="329.61" width="11.06" height="11.06" fill="#FFA600"/>
<rect x="1585.03" y="329.61" width="11.06" height="11.06" fill="#FE8E00"/>
<rect x="1596.10" y="329.61" width="11.06" height="11.06" fill="#FFA600"/>
<rect x="1607.16" y="329.61" width="11.06" height="11.06" fill="#FF7500"/>
<rect x="1629.29" y="329.61" width="22.13" height="11.06" fill="#FF7500"/>
<rect x="622.46" y="318.55" width="11.06" height="11.06" fill="#1CD5EB"/>
<rect x="1596.10" y="318.55" width="11.06" height="11.06" fill="#1CD5EB"/>
<rect x="1607.16" y="318.55" width="11.06" height="11.06" fill="#05FFFF"/>
<rect x="1618.22" y="318.55" width="11.06" height="11.06" fill="#FF7500"/>
<rect x="1640.35" y="318.55" width="11.06" height="11.06" fill="#FF7500"/>
<rect x="1651.42" y="318.55" width="11.06" height="11.06" fill="#FF3200"/>
<rect x="1662.48" y="318.55" width="22.13" height="11.06" fill="#1CD5EB"/>
<rect x="1684.61" y="318.55" width="11.06" height="11.06" fill="#FF7500"/>
<rect x="622.46" y="307.48" width="11.06" height="11.06" fill="#1CD5EB"/>
<rect x="633.53" y="307.48" width="11.06" height="11.06" fill="#FE8E00"/>
<rect x="655.66" y="307.48" width="11.06" height="11.06" fill="#FE8E00"/>
<rect x="1607.16" y="307.48" width="11.06" height="11.06" fill="#1CD5EB"/>
<rect x="1618.22" y="307.48" width="22.13" height="11.06" fill="#FF7500"/>
<rect x="1651.42" y="307.48" width="11.06" height="11.06" fill="#FF7500"/>
<rect x="1662.48" y="307.48" width="22.13" height="11.06" fill="#1CD5EB"/>
<rect x="1684.61" y="307.48" width="11.06" height="11.06" fill="#FF7500"/>
<rect x="1695.67" y="307.48" width="11.06" height="11.06" fill="#FE8E00"/>
<rect x="611.40" y="296.42" width="33.19" height="11.06" fill="#1CD5EB"/>
<rect x="655.66" y="296.42" width="11.06" height="11.06" fill="#FE8E00"/>
<rect x="677.78" y="296.42" width="11.06" height="11.06" fill="#FF7500"/>
<rect x="1629.29" y="296.42" width="11.06" height="11.06" fill="#FF3200"/>
<rect x="1640.35" y="296.42" width="11.06" height="11.06" fill="#FF7500"/>
<rect x="1662.48" y="296.42" width="22.13" height="11.06" fill="#1CD5EB"/>
<rect x="1684.61" y="296.42" width="11.06" height="11.06" fill="#FF7500"/>
<rect x="1695.67" y="296.42" width="11.06" height="11.06" fill="#FF3200"/>
<rect x="1706.74" y="296.42" width="11.06" height="11.06" fill="#1CD5EB"/>
<rect x="622.46" y="285.36" width="11.06" height="11.06" fill="#1CD5EB"/>
<rect x="1629.29" y="285.36" width="33.19" height="11.06" fill="#1CD5EB"/>
<rect x="1673.54" y="285.36" width="11.06" height="11.06" fill="#FF7500"/>
<rect x="1684.61" y="285.36" width="11.06" height="11.06" fill="#1CD5EB"/>
<rect x="1695.67" y="285.36" width="11.06" height="11.06" fill="#FF7500"/>
<rect x="1706.74" y="285.36" width="11.06" height="11.06" fill="#FF5C00"/>
<rect x="1717.80" y="285.36" width="11.06" height="11.06" fill="#1CD5EB"/>
<rect x="1629.29" y="274.29" width="33.19" height="11.06" fill="#1CD5EB"/>
<rect x="1662.48" y="274.29" width="11.06" height="11.06" fill="#FF7500"/>
<rect x="1684.61" y="274.29" width="11.06" height="11.06" fill="#FF7500"/>
<rect x="1695.67" y="274.29" width="11.06" height="11.06" fill="#1CD5EB"/>
<rect x="1706.74" y="274.29" width="11.06" height="11.06" fill="#FF7500"/>
<rect x="1717.80" y="274.29" width="11.06" height="11.06" fill="#FF5C00"/>
<rect x="1728.86" y="274.29" width="22.13" height="11.06" fill="#1CD5EB"/>
<rect x="600.34" y="263.23" width="11.06" height="11.06" fill="#4490C6"/>
<rect x="622.46" y="263.23" width="11.06" height="11.06" fill="#33ADD8"/>
<rect x="677.78" y="263.23" width="11.06" height="11.06" fill="#FF7500"/>
<rect x="1629.29" y="263.23" width="33.19" height="11.06" fill="#FF7500"/>
<rect x="1662.48" y="263.23" width="11.06" height="11.06" fill="#1CD5EB"/>
<rect x="1673.54" y="263.23" width="11.06" height="11.06" fill="#FF7500"/>
<rect x="1695.67" y="263.23" width="11.06" height="11.06" fill="#FF7500"/>
<rect x="1706.74" y="263.23" width="11.06" height="11.06" fill="#1CD5EB"/>
<rect x="1717.80" y="263.23" width="11.06" height="11.06" fill="#FF7500"/>
<rect x="1728.86" y="263.23" width="11.06" height="11.06" fill="#FF5C00"/>
<rect x="1739.93" y="263.23" width="22.13" height="11.06" fill="#1CD5EB"/>
<rect x="677.78" y="252.16" width="11.06" height="11.06" fill="#FF7500"/>
<rect x="1640.35" y="252.16" width="11.06" height="11.06" fill="#FE8E00"/>
<rect x="1651.42" y="252.16" width="11.06" height="11.06" fill="#FF3200"/>
<rect x="1662.48" y="252.16" width="11.06" height="11.06" fill="#FF7500"/>
<rect x="1673.54" y="252.16" width="11.06" height="11.06" fill="#1CD5EB"/>
<rect x="1684.61" y="252.16" width="11.06" height="11.06" fill="#FF7500"/>
<rect x="1706.74" y="252.16" width="11.06" height="11.06" fill="#FF7500"/>
<rect x="1717.80" y="252.16" width="11.06" height="11.06" fill="#1CD5EB"/>
<rect x="1728.86" y="252.16" width="11.06" height="11.06" fill="#FF7500"/>
<rect x="1739.93" y="252.16" width="11.06" height="11.06" fill="#FF5C00"/>
<rect x="1750.99" y="252.16" width="11.06" height="11.06" fill="#1CD5EB"/>
<rect x="1651.42" y="241.10" width="11.06" height="11.06" fill="#1CD5EB"/>
<rect x="1662.48" y="241.10" width="11.06" height="11.06" fill="#FF5C00"/>
<rect x="1673.54" y="241.10" width="11.06" height="11.06" fill="#FF7500"/>
<rect x="1684.61" y="241.10" width="11.06" height="11.06" fill="#1CD5EB"/>
<rect x="1695.67" y="241.10" width="11.06" height="11.06" fill="#FF7500"/>
<rect x="1717.80" y="241.10" width="11.06" height="11.06" fill="#FF7500"/>
<rect x="1728.86" y="241.10" width="11.06" height="11.06" fill="#1CD5EB"/>
<rect x="1739.93" y="241.10" width="11.06" height="11.06" fill="#FF7500"/>
<rect x="1750.99" y="241.10" width="11.06" height="11.06" fill="#FF3200"/>
<rect x="1762.06" y="241.10" width="11.06" height="11.06" fill="#1CD5EB"/>
<rect x="1662.48" y="230.04" width="11.06" height="11.06" fill="#1CD5EB"/>
<rect x="1673.54" y="230.04" width="11.06" height="11.06" fill="#FF5C00"/>
<rect x="1684.61" y="230.04" width="11.06" height="11.06" fill="#FF7500"/>
<rect x="1695.67" y="230.04" width="11.06" height="11.06" fill="#1CD5EB"/>
<rect x="1706.74" y="230.04" width="11.06" height="11.06" fill="#FF7500"/>
<rect x="1728.86" y="230.04" width="22.13" height="11.06" fill="#1CD5EB"/>
<rect x="1750.99" y="230.04" width="11.06" height="11.06" fill="#FF7500"/>
<rect x="1762.06" y="230.04" width="11.06" height="11.06" fill="#FF3200"/>
<rect x="1773.12" y="230.04" width="11.06" height="11.06" fill="#1CD5EB"/>
<rect x="1795.25" y="230.04" width="22.13" height="11.06" fill="#4490C6"/>
<rect x="1817.38" y="230.04" width="11.06" height="11.06" fill="#33ADD8"/>
<rect x="699.91" y="218.97" width="11.06" height="11.06" fill="#FFA600"/>
<rect x="755.23" y="218.97" width="11.06" height="11.06" fill="#33ADD8"/>
<rect x="1673.54" y="218.97" width="11.06" height="11.06" fill="#1CD5EB"/>
<rect x="1684.61" y="218.97" width="11.06" height="11.06" fill="#FF5C00"/>
<rect x="1695.67" y="218.97" width="11.06" height="11.06" fill="#FF7500"/>
<rect x="1706.74" y="218.97" width="22.13" height="11.06" fill="#1CD5EB"/>
<rect x="1739.93" y="218.97" width="22.13" height="11.06" fill="#1CD5EB"/>
<rect x="1762.06" y="218.97" width="11.06" height="11.06" fill="#FF7500"/>
<rect x="1773.12" y="218.97" width="11.06" height="11.06" fill="#FF3200"/>
<rect x="1784.18" y="218.97" width="22.13" height="11.06" fill="#1CD5EB"/>
<rect x="1673.54" y="207.91" width="22.13" height="11.06" fill="#1CD5EB"/>
<rect x="1695.67" y="207.91" width="11.06" height="11.06" fill="#FF5C00"/>
<rect x="1706.74" y="207.91" width="11.06" height="11.06" fill="#FF7500"/>
<rect x="1717.80" y="207.91" width="22.13" height="11.06" fill="#1CD5EB"/>
<rect x="1750.99" y="207.91" width="22.13" height="11.06" fill="#1CD5EB"/>
<rect x="1773.12" y="207.91" width="11.06" height="11.06" fill="#FE8E00"/>
<rect x="1784.18" y="207.91" width="11.06" height="11.06" fill="#FF3200"/>
<rect x="1795.25" y="207.91" width="11.06" height="11.06" fill="#FF7500"/>
<rect x="1806.31" y="207.91" width="11.06" height="11.06" fill="#FFA600"/>
<rect x="1817.38" y="207.91" width="11.06" height="11.06" fill="#1CD5EB"/>
<rect x="1684.61" y="196.84" width="22.13" height="11.06" fill="#1CD5EB"/>
<rect x="1706.74" y="196.84" width="11.06" height="11.06" fill="#FF3200"/>
<rect x="1717.80" y="196.84" width="11.06" height="11.06" fill="#FF7500"/>
<rect x="1728.86" y="196.84" width="22.13" height="11.06" fill="#1CD5EB"/>
<rect x="1762.06" y="196.84" width="66.38" height="11.06" fill="#1CD5EB"/>
<rect x="744.17" y="185.78" width="11.06" height="11.06" fill="#4490C6"/>
<rect x="755.23" y="185.78" width="11.06" height="11.06" fill="#1CD5EB"/>
<rect x="788.42" y="185.78" width="11.06" height="11.06" fill="#4490C6"/>
<rect x="1706.74" y="185.78" width="11.06" height="11.06" fill="#1CD5EB"/>
<rect x="1717.80" y="185.78" width="11.06" height="11.06" fill="#FF3200"/>
<rect x="1728.86" y="185.78" width="11.06" height="11.06" fill="#FF7500"/>
<rect x="1739.93" y="185.78" width="22.13" height="11.06" fill="#1CD5EB"/>
<rect x="1773.12" y="185.78" width="11.06" height="11.06" fill="#1CD5EB"/>
<rect x="1784.18" y="185.78" width="11.06" height="11.06" fill="#33ADD8"/>
<rect x="1795.25" y="185.78" width="22.13" height="11.06" fill="#4490C6"/>
<rect x="1817.38" y="185.78" width="11.06" height="11.06" fill="#33ADD8"/>
<rect x="456.50" y="174.72" width="11.06" height="11.06" fill="#FF7500"/>
<rect x="744.17" y="174.72" width="11.06" height="11.06" fill="#1CD5EB"/>
<rect x="755.23" y="174.72" width="11.06" height="11.06" fill="#4490C6"/>
<rect x="1717.80" y="174.72" width="11.06" height="11.06" fill="#1CD5EB"/>
<rect x="1728.86" y="174.72" width="11.06" height="11.06" fill="#FF3200"/>
<rect x="1739.93" y="174.72" width="11.06" height="11.06" fill="#FE8E00"/>
<rect x="1750.99" y="174.72" width="22.13" height="11.06" fill="#1CD5EB"/>
<rect x="1784.18" y="174.72" width="33.19" height="11.06" fill="#1CD5EB"/>
<rect x="1728.86" y="163.65" width="11.06" height="11.06" fill="#1CD5EB"/>
<rect x="1739.93" y="163.65" width="11.06" height="11.06" fill="#FF3200"/>
<rect x="1750.99" y="163.65" width="11.06" height="11.06" fill="#1CD5EB"/>
<rect x="1762.06" y="163.65" width="11.06" height="11.06" fill="#33ADD8"/>
<rect x="1773.12" y="163.65" width="11.06" height="11.06" fill="#1CD5EB"/>
<rect x="1795.25" y="163.65" width="11.06" height="11.06" fill="#FF7500"/>
<rect x="1806.31" y="163.65" width="11.06" height="11.06" fill="#FE8E00"/>
<rect x="1817.38" y="163.65" width="11.06" height="11.06" fill="#FFA600"/>
<rect x="323.74" y="152.59" width="11.06" height="11.06" fill="#2DB8DD"/>
<rect x="1717.80" y="152.59" width="11.06" height="11.06" fill="#4490C6"/>
<rect x="1728.86" y="152.59" width="11.06" height="11.06" fill="#1CD5EB"/>
<rect x="1739.93" y="152.59" width="11.06" height="11.06" fill="#FF7500"/>
<rect x="1750.99" y="152.59" width="11.06" height="11.06" fill="#1CD5EB"/>
<rect x="1762.06" y="152.59" width="11.06" height="11.06" fill="#4490C6"/>
<rect x="1773.12" y="152.59" width="11.06" height="11.06" fill="#1CD5EB"/>
<rect x="1784.18" y="152.59" width="11.06" height="11.06" fill="#FF7500"/>
<rect x="1806.31" y="152.59" width="11.06" height="11.06" fill="#FF7500"/>
<rect x="1817.38" y="152.59" width="11.06" height="11.06" fill="#FF5C00"/>
<rect x="301.61" y="141.52" width="11.06" height="11.06" fill="#4490C6"/>
<rect x="1717.80" y="141.52" width="11.06" height="11.06" fill="#4490C6"/>
<rect x="1739.93" y="141.52" width="11.06" height="11.06" fill="#FFA600"/>
<rect x="1750.99" y="141.52" width="11.06" height="11.06" fill="#1CD5EB"/>
<rect x="1762.06" y="141.52" width="11.06" height="11.06" fill="#4490C6"/>
<rect x="1773.12" y="141.52" width="11.06" height="11.06" fill="#1CD5EB"/>
<rect x="1784.18" y="141.52" width="11.06" height="11.06" fill="#FE8E00"/>
<rect x="1795.25" y="141.52" width="11.06" height="11.06" fill="#FF7500"/>
<rect x="1817.38" y="141.52" width="11.06" height="11.06" fill="#FF7500"/>
<rect x="1828.44" y="141.52" width="11.06" height="11.06" fill="#FD1A02"/>
<rect x="290.54" y="130.46" width="33.19" height="11.06" fill="#4490C6"/>
<rect x="1717.80" y="130.46" width="11.06" height="11.06" fill="#33ADD8"/>
<rect x="1739.93" y="130.46" width="22.13" height="11.06" fill="#1CD5EB"/>
<rect x="1762.06" y="130.46" width="11.06" height="11.06" fill="#33ADD8"/>
<rect x="1784.18" y="130.46" width="11.06" height="11.06" fill="#FFA600"/>
<rect x="1795.25" y="130.46" width="11.06" height="11.06" fill="#FF5C00"/>
<rect x="1806.31" y="130.46" width="11.06" height="11.06" fill="#FF7500"/>
<rect x="1828.44" y="130.46" width="11.06" height="11.06" fill="#FF7500"/>
<rect x="290.54" y="119.40" width="11.06" height="11.06" fill="#33ADD8"/>
<rect x="1806.31" y="119.40" width="11.06" height="11.06" fill="#FD1A02"/>
<rect x="1817.38" y="119.40" width="11.06" height="11.06" fill="#FF7500"/>
</g>
<g shape-rendering="crispEdges">
<rect x="1862.00" y="1654.56" width="12.20" height="102.64" fill="#FF0000"/>
<rect x="1862.00" y="1552.21" width="12.20" height="102.64" fill="#FF1C00"/>
<rect x="1862.00" y="1449.87" width="12.20" height="102.64" fill="#FF3400"/>
<rect x="1862.00" y="1347.53" width="12.20" height="102.64" fill="#FF5C00"/>
<rect x="1862.00" y="1245.18" width="12.20" height="102.64" fill="#FF7400"/>
<rect x="1862.00" y="1142.84" width="12.20" height="102.64" fill="#FD9000"/>
<rect x="1862.00" y="1040.49" width="12.20" height="102.64" fill="#FFA700"/>
<rect x="1862.00" y="938.15" width="12.20" height="102.64" fill="#06FFFF"/>
<rect x="1862.00" y="835.81" width="12.20" height="102.64" fill="#15E4F2"/>
<rect x="1862.00" y="733.46" width="12.20" height="102.64" fill="#19D6EC"/>
<rect x="1862.00" y="631.12" width="12.20" height="102.64" fill="#22C8E6"/>
<rect x="1862.00" y="528.78" width="12.20" height="102.64" fill="#30B5DD"/>
<rect x="1862.00" y="426.43" width="12.20" height="102.64" fill="#37A8D8"/>
<rect x="1862.00" y="324.09" width="12.20" height="102.64" fill="#418DC8"/>
<rect x="1862.00" y="221.74" width="12.20" height="102.64" fill="#4E82C4"/>
</g>
<g fill="none" stroke="#000" stroke-width="5.7" stroke-linejoin="round" stroke-linecap="round">
<rect x="202.03" y="119.40" width="1637.47" height="1637.47"/>
<rect x="1862.00" y="119.40" width="12.20" height="1637.50"/>
<line x1="749.70" y1="119.40" x2="749.70" y2="113.60"/>
<line x1="749.70" y1="1756.87" x2="749.70" y2="1762.17"/>
<line x1="202.03" y1="1209.20" x2="196.43" y2="1209.20"/>
<line x1="1839.50" y1="1209.20" x2="1845.10" y2="1209.20"/>
<line x1="1302.90" y1="119.40" x2="1302.90" y2="113.60"/>
<line x1="1302.90" y1="1756.87" x2="1302.90" y2="1762.17"/>
<line x1="202.03" y1="656.00" x2="196.43" y2="656.00"/>
<line x1="1839.50" y1="656.00" x2="1845.10" y2="656.00"/>
<line x1="1874.20" y1="1696.90" x2="1878.70" y2="1696.90"/>
<line x1="1874.20" y1="1286.60" x2="1878.70" y2="1286.60"/>
<line x1="1874.20" y1="876.30" x2="1878.70" y2="876.30"/>
<line x1="1874.20" y1="466.00" x2="1878.70" y2="466.00"/>
</g>
<text transform="translate(716.81 1811.68) scale(0.5971 0.6197)" font-size="100">50</text>
<text transform="translate(1253.44 1811.97) scale(0.5930 0.6282)" font-size="100">100</text>
<text transform="translate(92.34 677.88) scale(0.5936 0.6225)" font-size="100">100</text>
<text transform="translate(124.91 1231.17) scale(0.5981 0.6296)" font-size="100">50</text>
<text transform="translate(817.41 1867.51) scale(0.5984 0.5946)" font-size="100">Residue index</text>
<text transform="translate(79.79 1140.99) rotate(-90) scale(0.5984 0.6068)" font-size="100">Residue index</text>
<text transform="translate(1883.20 484.20) scale(0.4828 0.5042)" font-size="100">150</text>
<text transform="translate(1883.10 894.49) scale(0.4834 0.5085)" font-size="100">100</text>
<text transform="translate(1883.04 1304.49) scale(0.4856 0.5070)" font-size="100">50</text>
<text transform="translate(1882.50 1715.49) scale(0.5000 0.5070)" font-size="100">0</text>
</svg>
</body></html>
